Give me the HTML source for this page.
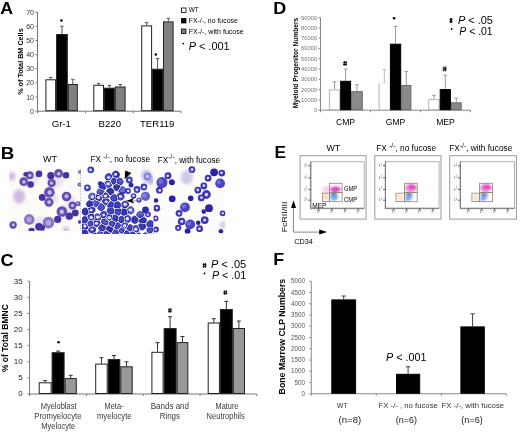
<!DOCTYPE html>
<html><head><meta charset="utf-8"><style>
html,body{margin:0;padding:0;background:#fff;width:520px;height:433px;overflow:hidden}
svg{display:block;will-change:transform;filter:blur(0.25px);font-family:"Liberation Sans", sans-serif}
</style></head><body>
<svg width="520" height="433" viewBox="0 0 520 433">
<text x="0.2" y="13.5" font-size="16.6" text-anchor="start" font-weight="bold" font-style="normal" fill="#000" textLength="12.8" lengthAdjust="spacingAndGlyphs">A</text>
<line x1="37.5" y1="12" x2="37.5" y2="111.2" stroke="#777" stroke-width="1"/>
<line x1="35.5" y1="111.2" x2="37.5" y2="111.2" stroke="#777" stroke-width="1"/>
<text x="34" y="113.7" font-size="7" text-anchor="end" font-weight="normal" font-style="normal" fill="#333">0</text>
<line x1="35.5" y1="97.06" x2="37.5" y2="97.06" stroke="#777" stroke-width="1"/>
<text x="34" y="99.56" font-size="7" text-anchor="end" font-weight="normal" font-style="normal" fill="#333">10</text>
<line x1="35.5" y1="82.92" x2="37.5" y2="82.92" stroke="#777" stroke-width="1"/>
<text x="34" y="85.42" font-size="7" text-anchor="end" font-weight="normal" font-style="normal" fill="#333">20</text>
<line x1="35.5" y1="68.78" x2="37.5" y2="68.78" stroke="#777" stroke-width="1"/>
<text x="34" y="71.28" font-size="7" text-anchor="end" font-weight="normal" font-style="normal" fill="#333">30</text>
<line x1="35.5" y1="54.64000000000001" x2="37.5" y2="54.64000000000001" stroke="#777" stroke-width="1"/>
<text x="34" y="57.14000000000001" font-size="7" text-anchor="end" font-weight="normal" font-style="normal" fill="#333">40</text>
<line x1="35.5" y1="40.5" x2="37.5" y2="40.5" stroke="#777" stroke-width="1"/>
<text x="34" y="43.0" font-size="7" text-anchor="end" font-weight="normal" font-style="normal" fill="#333">50</text>
<line x1="35.5" y1="26.360000000000014" x2="37.5" y2="26.360000000000014" stroke="#777" stroke-width="1"/>
<text x="34" y="28.860000000000014" font-size="7" text-anchor="end" font-weight="normal" font-style="normal" fill="#333">60</text>
<line x1="35.5" y1="12.220000000000013" x2="37.5" y2="12.220000000000013" stroke="#777" stroke-width="1"/>
<text x="34" y="14.720000000000013" font-size="7" text-anchor="end" font-weight="normal" font-style="normal" fill="#333">70</text>
<text x="22.8" y="61.6" font-size="7.6" text-anchor="middle" font-weight="bold" font-style="normal" fill="#000" transform="rotate(-90 22.8 61.6)" textLength="66.5" lengthAdjust="spacingAndGlyphs">% of Total BM Cells</text>
<line x1="37.5" y1="111.2" x2="181" y2="111.2" stroke="#777" stroke-width="1"/>
<line x1="37.5" y1="111.2" x2="37.5" y2="113.2" stroke="#777" stroke-width="1"/>
<line x1="85.5" y1="111.2" x2="85.5" y2="113.2" stroke="#777" stroke-width="1"/>
<line x1="133.2" y1="111.2" x2="133.2" y2="113.2" stroke="#777" stroke-width="1"/>
<line x1="181" y1="111.2" x2="181" y2="113.2" stroke="#777" stroke-width="1"/>
<line x1="50.75" y1="79.3" x2="50.75" y2="77.5" stroke="#555" stroke-width="1"/>
<line x1="49.05" y1="77.5" x2="52.45" y2="77.5" stroke="#555" stroke-width="1"/>
<rect x="45.9" y="79.8" width="9.700000000000003" height="30.900000000000006" fill="#fff" stroke="#222" stroke-width="1"/>
<line x1="61.95" y1="34" x2="61.95" y2="26.2" stroke="#555" stroke-width="1"/>
<line x1="60.25" y1="26.2" x2="63.650000000000006" y2="26.2" stroke="#555" stroke-width="1"/>
<rect x="56.6" y="34.5" width="10.699999999999996" height="76.2" fill="#000" stroke="#222" stroke-width="1"/>
<line x1="72.8" y1="84" x2="72.8" y2="79.3" stroke="#555" stroke-width="1"/>
<line x1="71.1" y1="79.3" x2="74.5" y2="79.3" stroke="#555" stroke-width="1"/>
<rect x="68.3" y="84.5" width="9.0" height="26.200000000000003" fill="#808080" stroke="#222" stroke-width="1"/>
<line x1="98.65" y1="84.8" x2="98.65" y2="83.5" stroke="#555" stroke-width="1"/>
<line x1="96.95" y1="83.5" x2="100.35000000000001" y2="83.5" stroke="#555" stroke-width="1"/>
<rect x="93.8" y="85.3" width="9.700000000000003" height="25.400000000000006" fill="#fff" stroke="#222" stroke-width="1"/>
<line x1="109.4" y1="87.7" x2="109.4" y2="85.5" stroke="#555" stroke-width="1"/>
<line x1="107.7" y1="85.5" x2="111.10000000000001" y2="85.5" stroke="#555" stroke-width="1"/>
<rect x="104.5" y="88.2" width="9.799999999999997" height="22.5" fill="#000" stroke="#222" stroke-width="1"/>
<line x1="120.19999999999999" y1="86.5" x2="120.19999999999999" y2="84.5" stroke="#555" stroke-width="1"/>
<line x1="118.49999999999999" y1="84.5" x2="121.89999999999999" y2="84.5" stroke="#555" stroke-width="1"/>
<rect x="115.3" y="87.0" width="9.799999999999997" height="23.700000000000003" fill="#808080" stroke="#222" stroke-width="1"/>
<line x1="146.64999999999998" y1="25.4" x2="146.64999999999998" y2="22.6" stroke="#555" stroke-width="1"/>
<line x1="144.95" y1="22.6" x2="148.34999999999997" y2="22.6" stroke="#555" stroke-width="1"/>
<rect x="141.7" y="25.9" width="9.900000000000006" height="84.80000000000001" fill="#fff" stroke="#222" stroke-width="1"/>
<line x1="157.55" y1="68.7" x2="157.55" y2="58.5" stroke="#555" stroke-width="1"/>
<line x1="155.85000000000002" y1="58.5" x2="159.25" y2="58.5" stroke="#555" stroke-width="1"/>
<rect x="152.6" y="69.2" width="9.900000000000006" height="41.5" fill="#000" stroke="#222" stroke-width="1"/>
<line x1="168.3" y1="21.4" x2="168.3" y2="18.3" stroke="#555" stroke-width="1"/>
<line x1="166.60000000000002" y1="18.3" x2="170.0" y2="18.3" stroke="#555" stroke-width="1"/>
<rect x="163.5" y="21.9" width="9.599999999999994" height="88.80000000000001" fill="#808080" stroke="#222" stroke-width="1"/>
<circle cx="61.4" cy="20.5" r="1.25" fill="#000"/>
<circle cx="155.8" cy="54.5" r="1.25" fill="#000"/>
<text x="61.3" y="126.6" font-size="9.6" text-anchor="middle" font-weight="normal" font-style="normal" fill="#000">Gr-1</text>
<text x="109.8" y="126.6" font-size="9.6" text-anchor="middle" font-weight="normal" font-style="normal" fill="#000">B220</text>
<text x="157.2" y="126.6" font-size="9.6" text-anchor="middle" font-weight="normal" font-style="normal" fill="#000">TER119</text>
<rect x="181.5" y="8" width="4.5" height="4.5" fill="#fff" stroke="#000" stroke-width="0.8"/>
<rect x="181.5" y="18.5" width="4.5" height="4.5" fill="#000" stroke="#000" stroke-width="0.8"/>
<rect x="181.5" y="29" width="4.5" height="4.5" fill="#808080" stroke="#000" stroke-width="0.8"/>
<text x="188.7" y="12.3" font-size="7.3" text-anchor="start" font-weight="normal" font-style="normal" fill="#000" textLength="10.1" lengthAdjust="spacingAndGlyphs">WT</text>
<text x="188.7" y="22.9" font-size="7.3" text-anchor="start" font-weight="normal" font-style="normal" fill="#000" textLength="49.1" lengthAdjust="spacingAndGlyphs">FX-/-, no fucose</text>
<text x="188.7" y="33.9" font-size="7.3" text-anchor="start" font-weight="normal" font-style="normal" fill="#000" textLength="55.1" lengthAdjust="spacingAndGlyphs">FX-/-, with fucose</text>
<circle cx="183.2" cy="43.6" r="0.9" fill="#000"/>
<text x="188.7" y="50.1" font-size="10.8" text-anchor="start" font-weight="normal" font-style="normal" fill="#000" textLength="40.9" lengthAdjust="spacingAndGlyphs"><tspan font-style="italic">P</tspan> &lt; .001</text>
<text x="273.3" y="13.7" font-size="16.4" text-anchor="start" font-weight="bold" font-style="normal" fill="#000" textLength="13.0" lengthAdjust="spacingAndGlyphs">D</text>
<line x1="320.5" y1="17.5" x2="320.5" y2="110.2" stroke="#888" stroke-width="1"/>
<line x1="318.5" y1="110.2" x2="320.5" y2="110.2" stroke="#888" stroke-width="1"/>
<text x="317.2" y="112.2" font-size="5.8" text-anchor="end" font-weight="normal" font-style="normal" fill="#777">0</text>
<line x1="318.5" y1="99.9" x2="320.5" y2="99.9" stroke="#888" stroke-width="1"/>
<text x="317.2" y="101.9" font-size="5.8" text-anchor="end" font-weight="normal" font-style="normal" fill="#777">10000</text>
<line x1="318.5" y1="89.6" x2="320.5" y2="89.6" stroke="#888" stroke-width="1"/>
<text x="317.2" y="91.6" font-size="5.8" text-anchor="end" font-weight="normal" font-style="normal" fill="#777">20000</text>
<line x1="318.5" y1="79.3" x2="320.5" y2="79.3" stroke="#888" stroke-width="1"/>
<text x="317.2" y="81.3" font-size="5.8" text-anchor="end" font-weight="normal" font-style="normal" fill="#777">30000</text>
<line x1="318.5" y1="69.0" x2="320.5" y2="69.0" stroke="#888" stroke-width="1"/>
<text x="317.2" y="71.0" font-size="5.8" text-anchor="end" font-weight="normal" font-style="normal" fill="#777">40000</text>
<line x1="318.5" y1="58.699999999999996" x2="320.5" y2="58.699999999999996" stroke="#888" stroke-width="1"/>
<text x="317.2" y="60.699999999999996" font-size="5.8" text-anchor="end" font-weight="normal" font-style="normal" fill="#777">50000</text>
<line x1="318.5" y1="48.4" x2="320.5" y2="48.4" stroke="#888" stroke-width="1"/>
<text x="317.2" y="50.4" font-size="5.8" text-anchor="end" font-weight="normal" font-style="normal" fill="#777">60000</text>
<line x1="318.5" y1="38.099999999999994" x2="320.5" y2="38.099999999999994" stroke="#888" stroke-width="1"/>
<text x="317.2" y="40.099999999999994" font-size="5.8" text-anchor="end" font-weight="normal" font-style="normal" fill="#777">70000</text>
<line x1="318.5" y1="27.799999999999997" x2="320.5" y2="27.799999999999997" stroke="#888" stroke-width="1"/>
<text x="317.2" y="29.799999999999997" font-size="5.8" text-anchor="end" font-weight="normal" font-style="normal" fill="#777">80000</text>
<line x1="318.5" y1="17.5" x2="320.5" y2="17.5" stroke="#888" stroke-width="1"/>
<text x="317.2" y="19.5" font-size="5.8" text-anchor="end" font-weight="normal" font-style="normal" fill="#777">90000</text>
<text x="297.6" y="63.05" font-size="7.0" text-anchor="middle" font-weight="bold" font-style="normal" fill="#000" transform="rotate(-90 297.6 63.05)" textLength="90.5" lengthAdjust="spacingAndGlyphs">Myeloid Progenitor Numbers</text>
<line x1="320.5" y1="110.2" x2="470.5" y2="110.2" stroke="#888" stroke-width="1"/>
<line x1="320.5" y1="110.2" x2="320.5" y2="112.2" stroke="#888" stroke-width="1"/>
<line x1="370.5" y1="110.2" x2="370.5" y2="112.2" stroke="#888" stroke-width="1"/>
<line x1="420.5" y1="110.2" x2="420.5" y2="112.2" stroke="#888" stroke-width="1"/>
<line x1="470.5" y1="110.2" x2="470.5" y2="112.2" stroke="#888" stroke-width="1"/>
<line x1="334.54999999999995" y1="89.4" x2="334.54999999999995" y2="81.8" stroke="#999" stroke-width="1"/>
<line x1="332.74999999999994" y1="81.8" x2="336.34999999999997" y2="81.8" stroke="#999" stroke-width="1"/>
<rect x="329.4" y="89.9" width="10.300000000000011" height="19.799999999999997" fill="#fff" stroke="#b4b4b4" stroke-width="1"/>
<line x1="345.65" y1="80.8" x2="345.65" y2="69" stroke="#999" stroke-width="1"/>
<line x1="343.84999999999997" y1="69" x2="347.45" y2="69" stroke="#999" stroke-width="1"/>
<rect x="340.7" y="81.3" width="9.900000000000034" height="28.400000000000006" fill="#000" stroke="#000" stroke-width="1"/>
<line x1="356.95000000000005" y1="91.2" x2="356.95000000000005" y2="84.7" stroke="#999" stroke-width="1"/>
<line x1="355.15000000000003" y1="84.7" x2="358.75000000000006" y2="84.7" stroke="#999" stroke-width="1"/>
<rect x="351.6" y="91.7" width="10.699999999999989" height="18.0" fill="#8a8a8a" stroke="#6a6a6a" stroke-width="1"/>
<line x1="379.1" y1="83.3" x2="379.1" y2="110.2" stroke="#b0b0b0" stroke-width="1"/>
<line x1="379.1" y1="83.3" x2="389.9" y2="83.3" stroke="#eee" stroke-width="1"/>
<line x1="384.3" y1="83.3" x2="384.3" y2="69.4" stroke="#bbb" stroke-width="1"/>
<line x1="382.8" y1="69.4" x2="385.8" y2="69.4" stroke="#bbb" stroke-width="1"/>
<line x1="395.54999999999995" y1="43.7" x2="395.54999999999995" y2="26.4" stroke="#999" stroke-width="1"/>
<line x1="393.74999999999994" y1="26.4" x2="397.34999999999997" y2="26.4" stroke="#999" stroke-width="1"/>
<rect x="390.4" y="44.2" width="10.300000000000011" height="65.5" fill="#000" stroke="#000" stroke-width="1"/>
<line x1="406.29999999999995" y1="85" x2="406.29999999999995" y2="71.4" stroke="#999" stroke-width="1"/>
<line x1="404.49999999999994" y1="71.4" x2="408.09999999999997" y2="71.4" stroke="#999" stroke-width="1"/>
<rect x="401.7" y="85.5" width="9.199999999999989" height="24.200000000000003" fill="#8a8a8a" stroke="#6a6a6a" stroke-width="1"/>
<line x1="433.95" y1="99.2" x2="433.95" y2="95.3" stroke="#999" stroke-width="1"/>
<line x1="432.15" y1="95.3" x2="435.75" y2="95.3" stroke="#999" stroke-width="1"/>
<rect x="428.7" y="99.7" width="10.5" height="10.0" fill="#fff" stroke="#b4b4b4" stroke-width="1"/>
<line x1="445.29999999999995" y1="89.1" x2="445.29999999999995" y2="75.2" stroke="#999" stroke-width="1"/>
<line x1="443.49999999999994" y1="75.2" x2="447.09999999999997" y2="75.2" stroke="#999" stroke-width="1"/>
<rect x="440.2" y="89.6" width="10.199999999999989" height="20.10000000000001" fill="#000" stroke="#000" stroke-width="1"/>
<line x1="456.29999999999995" y1="102.3" x2="456.29999999999995" y2="98.1" stroke="#999" stroke-width="1"/>
<line x1="454.49999999999994" y1="98.1" x2="458.09999999999997" y2="98.1" stroke="#999" stroke-width="1"/>
<rect x="451.4" y="102.8" width="9.800000000000011" height="6.900000000000006" fill="#8a8a8a" stroke="#6a6a6a" stroke-width="1"/>
<path d="M344.47,61 L344.08,65.9 M346.22,61 L345.83,65.9 M343.1,62.62 L347.0,62.62 M343.1,64.43 L347.0,64.43" stroke="#111" stroke-width="1.0" fill="none"/>
<circle cx="394.1" cy="18.2" r="1.3" fill="#000"/>
<path d="M444.06,66.5 L443.68,71.4 M445.82,66.5 L445.43,71.4 M442.7,68.12 L446.59999999999997,68.12 M442.7,69.93 L446.59999999999997,69.93" stroke="#111" stroke-width="1.0" fill="none"/>
<text x="345.5" y="124.6" font-size="8.6" text-anchor="middle" font-weight="normal" font-style="normal" fill="#000">CMP</text>
<text x="395.5" y="124.6" font-size="8.6" text-anchor="middle" font-weight="normal" font-style="normal" fill="#000">GMP</text>
<text x="445.5" y="124.6" font-size="8.6" text-anchor="middle" font-weight="normal" font-style="normal" fill="#000">MEP</text>
<path d="M450.58,17.9 L450.30,23.099999999999998 M451.84,17.9 L451.56,23.099999999999998 M449.6,19.62 L452.40000000000003,19.62 M449.6,21.54 L452.40000000000003,21.54" stroke="#111" stroke-width="1.0" fill="none"/>
<text x="457.9" y="24.3" font-size="10.5" text-anchor="start" font-weight="normal" font-style="normal" fill="#000" textLength="35" lengthAdjust="spacingAndGlyphs"><tspan font-style="italic">P</tspan> &lt; .05</text>
<circle cx="451.6" cy="29" r="0.9" fill="#000"/>
<text x="459.3" y="35.2" font-size="10.5" text-anchor="start" font-weight="normal" font-style="normal" fill="#000" textLength="33.4" lengthAdjust="spacingAndGlyphs"><tspan font-style="italic">P</tspan> &lt; .01</text>
<text x="0.8" y="158.6" font-size="17" text-anchor="start" font-weight="bold" font-style="normal" fill="#000" textLength="13.6" lengthAdjust="spacingAndGlyphs">B</text>
<text x="50.1" y="162.2" font-size="9" text-anchor="middle" font-weight="normal" font-style="normal" fill="#000">WT</text>
<text x="90.5" y="162.3" font-size="8.5" text-anchor="start" font-weight="normal" font-style="normal" fill="#000" textLength="59.5" lengthAdjust="spacingAndGlyphs">FX <tspan font-size="7" dy="-3.3">-/-</tspan><tspan dy="3.3">, no fucose</tspan></text>
<text x="157.8" y="162.5" font-size="8.5" text-anchor="start" font-weight="normal" font-style="normal" fill="#000" textLength="62.3" lengthAdjust="spacingAndGlyphs">FX<tspan font-size="7" dy="-3.3">-/-</tspan><tspan dy="3.3">, with fucose</tspan></text>
<defs><filter id="bl" x="-5%" y="-5%" width="110%" height="110%"><feGaussianBlur stdDeviation="0.55"/></filter><filter id="bl4" x="-50%" y="-50%" width="200%" height="200%"><feGaussianBlur stdDeviation="1.8"/></filter><clipPath id="c1"><rect x="9" y="169" width="72" height="62"/></clipPath><clipPath id="c2"><rect x="82" y="166" width="71.5" height="68"/></clipPath><clipPath id="c3"><rect x="153.5" y="165.5" width="72" height="68"/></clipPath></defs>
<g clip-path="url(#c1)" filter="url(#bl)">
<rect x="9" y="169" width="72" height="62" fill="#fdfbf8"/>
<ellipse cx="30" cy="179" rx="9" ry="7.6" fill="#e6dcf0" opacity="0.8" filter="url(#bl4)"/>
<ellipse cx="55" cy="180" rx="9" ry="7.6" fill="#e6dcf0" opacity="0.8" filter="url(#bl4)"/>
<ellipse cx="50" cy="198" rx="8" ry="6.8" fill="#e6dcf0" opacity="0.8" filter="url(#bl4)"/>
<ellipse cx="66" cy="212" rx="9" ry="7.6" fill="#e6dcf0" opacity="0.8" filter="url(#bl4)"/>
<ellipse cx="42" cy="224" rx="9" ry="7.6" fill="#e6dcf0" opacity="0.8" filter="url(#bl4)"/>
<ellipse cx="70" cy="200" rx="6" ry="5.1" fill="#e6dcf0" opacity="0.8" filter="url(#bl4)"/>
<circle cx="29.7" cy="175.2" r="3.9" fill="#6650b0"/>
<circle cx="29.8" cy="175.3" r="1.6" fill="#cabce6"/>
<circle cx="25.6" cy="174.3" r="2.3" fill="#4630a2"/>
<circle cx="23.7" cy="181.7" r="4.4" fill="#6650b0"/>
<circle cx="23.9" cy="182.0" r="1.8" fill="#cabce6"/>
<circle cx="30.6" cy="184.5" r="3.3" fill="#4630a2"/>
<circle cx="39.0" cy="173.9" r="3.3" fill="#4630a2"/>
<circle cx="42.2" cy="197.4" r="3.4" fill="#4630a2"/>
<circle cx="50.8" cy="175.7" r="3.6" fill="#4630a2"/>
<circle cx="58.6" cy="173.4" r="4.4" fill="#6650b0"/>
<circle cx="58.7" cy="173.7" r="1.8" fill="#cabce6"/>
<circle cx="66.0" cy="175.2" r="3.3" fill="#4630a2"/>
<circle cx="51.7" cy="183.1" r="4.1" fill="#6650b0"/>
<circle cx="51.4" cy="183.1" r="1.7" fill="#cabce6"/>
<circle cx="49.4" cy="192.3" r="5.3" fill="#6650b0"/>
<circle cx="49.7" cy="192.4" r="2.2" fill="#cabce6"/>
<circle cx="48.9" cy="202.3" r="4.5" fill="#6650b0"/>
<circle cx="49.1" cy="202.1" r="1.9" fill="#cabce6"/>
<circle cx="66.5" cy="196.5" r="4.8" fill="#6650b0"/>
<circle cx="66.5" cy="196.3" r="2.0" fill="#cabce6"/>
<circle cx="72.5" cy="205.5" r="3.9" fill="#6650b0"/>
<circle cx="72.5" cy="205.5" r="1.6" fill="#cabce6"/>
<circle cx="78.0" cy="203.7" r="2.5" fill="#6650b0"/>
<circle cx="77.7" cy="203.5" r="1.1" fill="#cabce6"/>
<circle cx="61.9" cy="211.5" r="5.3" fill="#6650b0"/>
<circle cx="61.8" cy="211.7" r="2.2" fill="#cabce6"/>
<circle cx="57.7" cy="219.4" r="3.6" fill="#4630a2"/>
<circle cx="69.3" cy="216.2" r="3.6" fill="#4630a2"/>
<circle cx="75.3" cy="212.9" r="3.4" fill="#4630a2"/>
<circle cx="48.5" cy="222.6" r="5.8" fill="#8a74c2"/>
<circle cx="48.5" cy="222.6" r="2.9" fill="#b4a4da"/>
<circle cx="42.0" cy="227.7" r="3.0" fill="#4630a2"/>
<circle cx="29.2" cy="219.4" r="5.3" fill="#8a74c2"/>
<circle cx="29.2" cy="219.4" r="2.6" fill="#b4a4da"/>
<circle cx="39.0" cy="226.8" r="3.8" fill="#4630a2"/>
<circle cx="31.6" cy="231.0" r="3.2" fill="#4630a2"/>
<circle cx="13.1" cy="225.0" r="3.7" fill="#6650b0"/>
<circle cx="13.3" cy="224.8" r="1.5" fill="#cabce6"/>
<ellipse cx="19.1" cy="196.5" rx="6.0" ry="7.2" fill="#b890d0" opacity="0.6" filter="url(#bl4)"/>
<ellipse cx="11.7" cy="176.2" rx="3.5" ry="4.2" fill="#b890d0" opacity="0.6" filter="url(#bl4)"/>
<ellipse cx="66.0" cy="230.0" rx="3.0" ry="3.6" fill="#b890d0" opacity="0.6" filter="url(#bl4)"/>
<circle cx="79.6" cy="184.5" r="2.1" fill="#6650b0"/>
<circle cx="79.8" cy="184.3" r="0.9" fill="#cabce6"/>
<circle cx="79.6" cy="172.0" r="1.7" fill="#6650b0"/>
<circle cx="79.7" cy="171.8" r="0.7" fill="#cabce6"/>
<circle cx="79.6" cy="222.0" r="1.7" fill="#4630a2"/>
</g>
<line x1="80.4" y1="169" x2="80.4" y2="231" stroke="#8080b8" stroke-width="0.7" stroke-dasharray="1.2,1.6"/>
<g clip-path="url(#c2)" filter="url(#bl)">
<rect x="82" y="166" width="71.5" height="68" fill="#fcfbfa"/>
<circle cx="90.8" cy="169.8" r="3.4" fill="#3c3cc0"/>
<circle cx="90.5" cy="170.0" r="1.4" fill="#e4e4f8"/>
<circle cx="87.4" cy="187.8" r="3.4" fill="#3c3cc0"/>
<circle cx="87.2" cy="187.6" r="1.4" fill="#e4e4f8"/>
<circle cx="100.2" cy="183.5" r="2.3" fill="#2a2aa8"/>
<ellipse cx="146.4" cy="175.8" rx="5.0" ry="6.0" fill="#9090d8" opacity="0.6" filter="url(#bl4)"/>
<circle cx="147.5" cy="176.5" r="3.7" fill="#8080d8"/>
<circle cx="147.5" cy="176.5" r="1.8" fill="#d0d0f0"/>
<circle cx="143.8" cy="187.0" r="3.4" fill="#3c3cc0"/>
<circle cx="144.1" cy="187.2" r="1.4" fill="#e4e4f8"/>
<circle cx="137.0" cy="189.5" r="3.4" fill="#3c3cc0"/>
<circle cx="136.9" cy="189.8" r="1.4" fill="#e4e4f8"/>
<circle cx="129.3" cy="180.0" r="3.4" fill="#3c3cc0"/>
<circle cx="129.3" cy="180.1" r="1.4" fill="#e4e4f8"/>
<circle cx="145.5" cy="196.3" r="4.6" fill="#6060d0"/>
<circle cx="144.3" cy="195.4" r="2.1" fill="#a0a0e8" opacity="0.6"/>
<circle cx="145.5" cy="210.0" r="3.4" fill="#2a2aa8"/>
<circle cx="148.0" cy="214.3" r="2.9" fill="#3c3cc0"/>
<circle cx="147.8" cy="214.6" r="1.2" fill="#e4e4f8"/>
<ellipse cx="150.8" cy="180.0" rx="4.0" ry="4.8" fill="#9090d8" opacity="0.6" filter="url(#bl4)"/>
<circle cx="131.0" cy="185.0" r="2.5" fill="#2a2aa8"/>
<circle cx="122.5" cy="191.5" r="3.0" fill="#3c3cc0"/>
<circle cx="122.6" cy="191.8" r="1.3" fill="#e4e4f8"/>
<circle cx="128.0" cy="191.0" r="2.9" fill="#3c3cc0"/>
<circle cx="128.2" cy="190.9" r="1.2" fill="#e4e4f8"/>
<circle cx="133.5" cy="196.0" r="2.8" fill="#3c3cc0"/>
<circle cx="133.4" cy="195.8" r="1.2" fill="#e4e4f8"/>
<circle cx="139.0" cy="200.0" r="2.6" fill="#3c3cc0"/>
<circle cx="138.8" cy="199.7" r="1.1" fill="#e4e4f8"/>
<path d="M97.7,207.9 L97.9,208.3 L98.2,208.9 L98.6,209.4 L99.2,209.9 L99.8,210.2 L100.4,210.4 L101.1,210.5 L103.2,209.8 L103.6,209.4 L104.1,208.9 L104.4,208.3 L104.6,207.6 L104.7,206.9 L104.6,206.4 L101.3,203.4 L101.1,203.4 L100.9,203.4 L97.7,207.9Z" fill="#5050c8" stroke="#22229c" stroke-width="1.0"/>
<path d="M113.6,209.1 L113.4,208.8 L107.8,208.7 L107.7,208.9 L107.4,209.5 L107.2,210.2 L107.1,210.9 L107.1,211.1 L108.2,212.9 L112.5,213.9 L112.6,213.8 L113.1,213.4 L113.3,213.2 L113.6,209.1Z" fill="#4a4ac8" stroke="#22229c" stroke-width="1.0"/>
<ellipse cx="111.1" cy="210.0" rx="1.8" ry="1.4" fill="#3a3ab4" opacity="0.7"/>
<path d="M82.4,228.7 L87.0,229.1 L87.8,227.4 L86.3,224.1 L82.2,224.1 L82.0,224.3 L81.7,224.9 L81.5,225.6 L81.4,226.3 L81.5,227.0 L81.7,227.6 L82.0,228.2 L82.4,228.7Z" fill="#3838b8" stroke="#22229c" stroke-width="1.0"/>
<ellipse cx="84.9" cy="226.0" rx="1.6" ry="1.7" fill="#e8e8fa"/>
<path d="M99.3,187.5 L104.5,189.5 L104.6,189.4 L105.2,189.0 L105.6,188.4 L105.8,188.0 L103.7,183.1 L103.4,183.0 L102.7,182.9 L102.0,183.0 L101.3,183.2 L100.7,183.5 L100.2,184.0 L99.7,184.5 L99.4,185.1 L99.2,185.8 L99.1,186.5 L99.2,187.2 L99.3,187.5Z" fill="#3838b8" stroke="#22229c" stroke-width="1.0"/>
<path d="M129.2,224.8 L127.0,229.2 L130.2,231.0 L131.7,230.3 L132.2,225.8 L131.7,225.3 L131.1,225.0 L130.4,224.8 L129.7,224.7 L129.2,224.8Z" fill="#4a4ac8" stroke="#22229c" stroke-width="1.0"/>
<ellipse cx="129.5" cy="228.0" rx="2.3" ry="1.6" fill="#3a3ab4" opacity="0.7"/>
<path d="M118.8,221.4 L121.1,222.9 L124.0,221.4 L123.2,216.9 L121.6,216.4 L121.0,216.4 L120.3,216.6 L119.7,217.0 L119.7,217.0 L118.8,221.4Z" fill="#4040c0" stroke="#22229c" stroke-width="1.0"/>
<path d="M133.9,226.0 L133.4,230.4 L136.4,232.0 L138.4,231.4 L138.7,231.0 L139.0,230.4 L139.1,230.2 L137.2,225.8 L137.1,225.7 L136.4,225.5 L135.8,225.5 L135.1,225.5 L134.4,225.7 L133.9,226.0Z" fill="#6262d2" stroke="#22229c" stroke-width="1.0"/>
<ellipse cx="135.6" cy="229.3" rx="1.7" ry="1.4" fill="#e8e8fa"/>
<path d="M109.2,224.6 L113.4,226.7 L115.1,222.8 L111.7,221.1 L109.9,222.0 L109.2,224.6Z" fill="#5050c8" stroke="#22229c" stroke-width="1.0"/>
<path d="M112.5,233.3 L112.5,233.4 L112.7,234.1 L113.1,234.7 L113.5,235.3 L114.0,235.7 L114.7,236.0 L115.3,236.2 L115.7,236.3 L118.5,233.2 L117.5,230.4 L114.6,229.7 L112.5,233.3Z" fill="#5656cc" stroke="#22229c" stroke-width="1.0"/>
<ellipse cx="116.6" cy="232.5" rx="1.8" ry="1.5" fill="#3a3ab4" opacity="0.7"/>
<path d="M118.5,193.6 L118.0,194.0 L117.6,194.5 L117.6,194.5 L118.8,199.6 L119.2,199.7 L119.8,199.9 L120.5,200.0 L121.2,199.9 L121.9,199.7 L122.5,199.4 L123.0,199.0 L123.5,198.4 L123.8,197.8 L124.0,197.2 L124.1,196.5 L124.0,195.8 L123.8,195.1 L123.7,194.9 L118.5,193.6Z" fill="#5656cc" stroke="#22229c" stroke-width="1.0"/>
<ellipse cx="120.5" cy="196.4" rx="1.5" ry="1.3" fill="#e8e8fa"/>
<path d="M142.8,238.5 L143.2,238.9 L143.7,239.4 L144.3,239.7 L145.0,239.9 L145.7,240.0 L146.4,239.9 L147.0,239.7 L147.6,239.4 L147.9,234.3 L146.2,232.9 L145.7,232.9 L145.0,232.9 L144.3,233.1 L143.7,233.5 L143.2,233.9 L142.8,234.3 L142.8,238.5Z" fill="#5656cc" stroke="#22229c" stroke-width="1.0"/>
<ellipse cx="145.5" cy="236.1" rx="1.4" ry="1.2" fill="#e8e8fa"/>
<path d="M92.3,221.7 L89.2,221.3 L87.8,223.3 L89.2,226.4 L92.7,225.4 L92.3,221.7Z" fill="#5050c8" stroke="#22229c" stroke-width="1.0"/>
<path d="M113.1,184.4 L115.4,183.1 L116.0,179.2 L113.0,178.1 L111.0,180.7 L113.1,184.4Z" fill="#4040c0" stroke="#22229c" stroke-width="1.0"/>
<path d="M101.8,223.0 L106.2,225.1 L106.5,225.0 L106.7,224.9 L107.3,224.5 L107.4,224.4 L108.2,221.7 L105.3,219.0 L102.3,219.6 L102.2,219.8 L101.9,220.4 L101.7,221.0 L101.6,221.7 L101.7,222.4 L101.8,223.0Z" fill="#5656cc" stroke="#22229c" stroke-width="1.0"/>
<path d="M122.5,234.9 L119.8,234.4 L116.9,237.4 L116.9,237.6 L117.1,238.3 L117.4,238.9 L117.9,239.4 L118.4,239.8 L119.0,240.2 L119.7,240.4 L120.4,240.4 L121.1,240.4 L121.7,240.2 L122.4,239.8 L122.9,239.4 L123.3,238.9 L123.7,238.3 L123.9,237.6 L123.9,237.5 L122.5,234.9Z" fill="#6e6ed8" stroke="#22229c" stroke-width="1.0"/>
<ellipse cx="120.6" cy="236.8" rx="1.6" ry="1.5" fill="#e8e8fa"/>
<path d="M95.7,199.2 L100.2,200.9 L100.2,200.9 L100.7,200.4 L101.0,200.1 L101.6,198.9 L100.9,196.6 L96.6,194.8 L95.7,199.2Z" fill="#4040c0" stroke="#22229c" stroke-width="1.0"/>
<ellipse cx="98.5" cy="197.5" rx="1.7" ry="1.6" fill="#e8e8fa"/>
<path d="M104.7,237.2 L105.2,237.5 L105.9,237.7 L106.6,237.8 L107.3,237.7 L108.0,237.5 L108.6,237.2 L109.1,236.8 L109.5,236.2 L109.9,235.6 L110.1,235.0 L110.1,234.3 L110.1,233.9 L105.7,231.2 L104.2,232.2 L104.7,237.2Z" fill="#4040c0" stroke="#22229c" stroke-width="1.0"/>
<path d="M114.9,202.9 L114.7,207.7 L114.8,207.9 L120.1,207.2 L120.4,206.7 L120.2,203.5 L120.1,203.4 L119.7,202.8 L119.1,202.4 L118.5,202.0 L117.8,201.8 L117.6,201.8 L114.9,202.9Z" fill="#4040c0" stroke="#22229c" stroke-width="1.0"/>
<path d="M127.6,208.8 L128.8,213.5 L129.0,213.6 L129.7,213.8 L130.4,213.9 L131.1,213.8 L131.7,213.6 L132.3,213.3 L132.9,212.8 L133.3,212.3 L133.6,211.7 L133.8,211.0 L133.9,210.3 L133.8,209.6 L133.6,209.0 L133.3,208.3 L132.9,207.8 L132.3,207.4 L131.7,207.0 L131.1,206.8 L130.4,206.8 L129.7,206.8 L127.6,208.8Z" fill="#6e6ed8" stroke="#22229c" stroke-width="1.0"/>
<ellipse cx="130.3" cy="210.0" rx="1.9" ry="1.3" fill="#e8e8fa"/>
<path d="M121.8,214.4 L122.2,214.8 L123.9,215.3 L127.2,213.9 L126.0,209.3 L122.4,208.9 L122.3,209.0 L122.1,209.1 L121.8,214.4Z" fill="#3232b2" stroke="#22229c" stroke-width="1.0"/>
<path d="M112.6,219.7 L116.2,221.5 L117.1,221.2 L118.0,216.6 L118.0,216.6 L118.0,216.5 L114.4,215.1 L114.4,215.1 L113.7,215.3 L113.4,215.4 L112.6,219.7Z" fill="#4040c0" stroke="#22229c" stroke-width="1.0"/>
<path d="M86.1,215.1 L86.6,215.0 L88.3,213.3 L86.8,208.4 L86.8,208.4 L86.1,208.2 L85.4,208.1 L84.8,208.2 L84.1,208.4 L83.5,208.7 L82.9,209.1 L82.5,209.7 L82.2,210.3 L82.0,211.0 L81.9,211.6 L82.0,212.3 L82.2,213.0 L82.5,213.6 L82.9,214.1 L83.5,214.6 L84.1,214.9 L84.4,215.0 L86.1,215.1Z" fill="#3232b2" stroke="#22229c" stroke-width="1.0"/>
<path d="M135.4,216.2 L134.9,216.2 L134.2,216.2 L133.5,216.4 L132.9,216.8 L132.4,217.2 L132.1,217.5 L131.8,221.3 L132.0,221.7 L132.4,222.2 L132.9,222.7 L133.5,223.0 L134.2,223.2 L134.9,223.3 L135.6,223.2 L136.3,223.0 L136.9,222.7 L137.4,222.2 L137.8,221.7 L138.0,219.3 L135.4,216.2Z" fill="#3838b8" stroke="#22229c" stroke-width="1.0"/>
<ellipse cx="134.5" cy="219.5" rx="1.6" ry="1.5" fill="#3a3ab4" opacity="0.7"/>
<path d="M130.1,237.0 L130.2,237.1 L130.7,237.5 L131.3,237.9 L132.0,238.1 L132.7,238.1 L133.4,238.1 L133.8,237.9 L135.3,233.4 L132.4,231.8 L130.9,232.5 L130.1,237.0Z" fill="#4040c0" stroke="#22229c" stroke-width="1.0"/>
<path d="M107.8,189.0 L107.7,189.1 L107.3,189.7 L106.9,190.3 L106.7,190.9 L106.7,191.2 L110.3,195.0 L113.4,193.1 L113.5,193.0 L113.7,192.3 L113.8,191.6 L113.7,191.0 L112.3,188.8 L112.2,188.7 L111.6,188.4 L111.2,188.2 L107.8,189.0Z" fill="#3232b2" stroke="#22229c" stroke-width="1.0"/>
<path d="M103.1,198.1 L108.6,197.8 L108.9,197.2 L109.1,196.6 L109.1,196.3 L105.5,192.4 L105.4,192.4 L102.6,196.1 L103.1,198.1Z" fill="#4040c0" stroke="#22229c" stroke-width="1.0"/>
<ellipse cx="105.4" cy="196.1" rx="1.9" ry="1.3" fill="#e8e8fa"/>
<path d="M139.5,223.9 L139.1,224.4 L138.8,225.0 L138.8,225.1 L140.6,229.6 L140.7,229.6 L141.4,229.8 L142.1,229.9 L142.8,229.8 L143.4,229.6 L144.1,229.3 L144.6,228.8 L145.0,228.3 L145.4,227.7 L145.6,227.0 L145.6,226.4 L145.2,224.7 L145.1,224.5 L139.5,223.9Z" fill="#3838b8" stroke="#22229c" stroke-width="1.0"/>
<path d="M111.2,199.9 L114.1,201.4 L117.0,200.2 L117.2,200.0 L117.2,200.0 L115.9,194.9 L115.6,194.8 L114.9,194.6 L114.3,194.5 L111.0,196.6 L110.9,196.7 L110.7,197.3 L110.7,198.0 L110.7,198.7 L110.9,199.4 L111.2,199.9Z" fill="#4a4ac8" stroke="#22229c" stroke-width="1.0"/>
<path d="M82.2,230.4 L81.8,230.7 L81.4,231.3 L81.1,231.9 L80.9,232.6 L80.8,233.3 L80.9,233.9 L81.1,234.6 L81.4,235.2 L81.8,235.8 L82.4,236.2 L83.0,236.5 L83.6,236.7 L84.3,236.8 L85.0,236.7 L85.7,236.5 L86.3,236.2 L86.8,235.8 L87.3,235.2 L87.6,234.6 L87.8,233.9 L87.9,233.3 L87.8,232.6 L87.8,232.5 L87.1,231.1 L86.9,230.8 L82.2,230.4Z" fill="#3838b8" stroke="#22229c" stroke-width="1.0"/>
<ellipse cx="84.7" cy="233.9" rx="1.7" ry="2.0" fill="#3a3ab4" opacity="0.7"/>
<path d="M151.6,232.5 L153.6,228.5 L153.5,228.2 L153.3,228.0 L147.6,228.1 L147.6,228.2 L147.2,228.8 L147.0,229.5 L147.0,230.2 L147.0,230.9 L147.2,231.5 L147.3,231.6 L149.1,233.0 L151.6,232.5Z" fill="#5050c8" stroke="#22229c" stroke-width="1.0"/>
<path d="M84.3,216.7 L83.6,216.9 L83.0,217.2 L82.4,217.7 L82.0,218.2 L81.7,218.8 L81.5,219.5 L81.4,220.2 L81.5,220.9 L81.7,221.5 L82.0,222.2 L82.2,222.4 L86.4,222.4 L87.8,220.3 L86.2,216.9 L86.0,216.8 L84.3,216.7Z" fill="#3838b8" stroke="#22229c" stroke-width="1.0"/>
<path d="M101.2,224.5 L98.6,227.7 L98.6,227.9 L98.7,228.6 L98.9,229.2 L99.2,229.8 L99.4,230.0 L103.1,230.9 L104.9,229.7 L105.4,226.6 L101.2,224.5Z" fill="#4a4ac8" stroke="#22229c" stroke-width="1.0"/>
<ellipse cx="102.7" cy="227.5" rx="1.7" ry="1.4" fill="#3a3ab4" opacity="0.7"/>
<path d="M99.9,223.4 L99.9,223.3 L99.8,222.6 L99.6,221.9 L99.5,221.8 L94.5,220.8 L94.0,221.2 L94.4,225.5 L96.3,226.8 L96.3,226.8 L97.0,226.7 L97.3,226.6 L99.9,223.4Z" fill="#3838b8" stroke="#22229c" stroke-width="1.0"/>
<ellipse cx="96.4" cy="223.4" rx="1.9" ry="1.3" fill="#e8e8fa"/>
<path d="M146.8,224.2 L147.3,225.9 L147.4,226.2 L147.6,226.4 L153.2,226.3 L153.3,226.2 L153.6,225.6 L153.8,224.9 L153.9,224.2 L153.8,223.5 L153.6,222.8 L153.3,222.2 L152.9,221.7 L152.3,221.3 L151.7,220.9 L151.1,220.7 L150.4,220.7 L149.7,220.7 L149.0,220.9 L148.4,221.3 L147.9,221.7 L147.7,221.9 L146.9,223.5 L146.8,224.2Z" fill="#4040c0" stroke="#22229c" stroke-width="1.0"/>
<path d="M89.2,200.8 L88.8,200.9 L88.2,201.2 L87.7,201.6 L87.3,202.2 L86.9,202.8 L86.7,203.4 L86.7,204.1 L86.7,204.8 L86.9,205.5 L87.3,206.1 L87.7,206.6 L87.8,206.7 L92.6,205.7 L92.0,201.5 L89.2,200.8Z" fill="#3232b2" stroke="#22229c" stroke-width="1.0"/>
<path d="M113.7,187.8 L115.1,190.0 L115.2,190.1 L115.8,190.5 L116.5,190.7 L117.2,190.7 L117.3,190.7 L120.2,186.2 L116.3,184.5 L113.9,185.9 L113.7,186.5 L113.6,187.2 L113.7,187.8Z" fill="#3838b8" stroke="#22229c" stroke-width="1.0"/>
<ellipse cx="117.2" cy="186.5" rx="2.3" ry="1.9" fill="#3a3ab4" opacity="0.7"/>
<path d="M88.6,208.3 L89.9,212.7 L93.2,212.8 L93.4,212.7 L93.9,212.3 L94.4,211.8 L94.7,211.1 L94.9,210.5 L95.0,209.8 L94.9,209.1 L94.7,208.4 L94.6,208.2 L93.3,207.3 L88.6,208.3Z" fill="#3232b2" stroke="#22229c" stroke-width="1.0"/>
<ellipse cx="91.1" cy="209.9" rx="1.6" ry="1.5" fill="#e8e8fa"/>
<path d="M125.4,228.5 L127.7,224.0 L127.7,223.9 L124.9,222.8 L121.9,224.4 L122.0,226.5 L125.4,228.5Z" fill="#6e6ed8" stroke="#22229c" stroke-width="1.0"/>
<ellipse cx="124.6" cy="225.9" rx="1.6" ry="1.7" fill="#e8e8fa"/>
<path d="M91.4,234.5 L91.1,235.1 L90.9,235.7 L90.8,236.4 L90.9,237.1 L91.1,237.8 L91.4,238.4 L91.8,238.9 L92.4,239.4 L93.0,239.7 L93.6,239.9 L94.3,240.0 L95.0,239.9 L95.7,239.7 L96.3,239.4 L96.8,238.9 L97.3,238.4 L96.0,233.3 L95.7,233.1 L95.6,233.1 L91.4,234.5Z" fill="#6262d2" stroke="#22229c" stroke-width="1.0"/>
<ellipse cx="94.3" cy="236.5" rx="1.5" ry="1.5" fill="#e8e8fa"/>
<path d="M114.8,228.0 L117.9,228.8 L120.3,226.6 L120.2,224.4 L117.7,222.7 L116.8,223.1 L114.8,227.9 L114.8,228.0Z" fill="#4a4ac8" stroke="#22229c" stroke-width="1.0"/>
<path d="M95.2,214.8 L95.1,219.2 L99.9,220.1 L100.0,220.0 L100.4,219.5 L100.8,218.9 L100.8,218.8 L98.9,214.3 L98.8,214.2 L98.2,214.0 L97.5,214.0 L96.8,214.0 L96.1,214.2 L95.5,214.6 L95.2,214.8Z" fill="#6262d2" stroke="#22229c" stroke-width="1.0"/>
<ellipse cx="97.8" cy="217.2" rx="2.0" ry="1.4" fill="#e8e8fa"/>
<path d="M102.2,217.9 L105.0,217.4 L106.7,213.7 L105.6,211.9 L105.1,211.6 L104.5,211.4 L103.8,211.4 L101.7,212.1 L101.3,212.4 L100.8,212.9 L100.5,213.6 L100.5,213.6 L102.2,217.9Z" fill="#4a4ac8" stroke="#22229c" stroke-width="1.0"/>
<ellipse cx="103.7" cy="215.0" rx="1.4" ry="1.2" fill="#e8e8fa"/>
<path d="M93.5,226.9 L89.3,228.2 L88.6,229.8 L88.6,230.2 L88.7,230.3 L89.3,231.7 L89.6,232.1 L90.1,232.5 L90.7,232.8 L90.9,232.9 L95.1,231.5 L95.4,230.9 L95.6,230.2 L95.6,229.6 L95.6,228.9 L95.4,228.2 L93.5,226.9Z" fill="#3838b8" stroke="#22229c" stroke-width="1.0"/>
<ellipse cx="92.0" cy="229.4" rx="1.6" ry="1.2" fill="#e8e8fa"/>
<path d="M139.5,221.9 L139.7,222.2 L145.3,222.8 L145.4,222.7 L146.2,221.1 L146.3,220.4 L146.2,219.7 L146.0,219.1 L145.7,218.4 L145.2,217.9 L144.7,217.5 L144.4,217.3 L139.7,219.6 L139.5,221.9Z" fill="#3838b8" stroke="#22229c" stroke-width="1.0"/>
<path d="M125.7,221.3 L128.3,222.3 L128.7,222.2 L129.3,221.9 L129.8,221.5 L130.1,221.2 L130.4,217.4 L130.2,217.0 L129.8,216.5 L129.3,216.0 L128.7,215.7 L128.0,215.5 L127.9,215.5 L124.9,216.8 L125.7,221.3Z" fill="#5050c8" stroke="#22229c" stroke-width="1.0"/>
<ellipse cx="127.3" cy="218.8" rx="1.7" ry="1.7" fill="#e8e8fa"/>
<path d="M102.4,202.1 L105.8,205.2 L105.9,205.2 L106.0,205.2 L109.3,200.5 L109.2,200.3 L108.9,199.7 L108.7,199.5 L103.0,199.8 L102.5,200.9 L102.5,201.0 L102.4,201.7 L102.4,202.1Z" fill="#4040c0" stroke="#22229c" stroke-width="1.0"/>
<ellipse cx="106.2" cy="201.8" rx="1.6" ry="1.2" fill="#e8e8fa"/>
<path d="M94.8,200.7 L93.7,201.3 L94.3,205.9 L95.6,206.9 L96.1,206.9 L96.3,206.9 L99.5,202.5 L94.8,200.7Z" fill="#6e6ed8" stroke="#22229c" stroke-width="1.0"/>
<ellipse cx="97.0" cy="204.3" rx="2.0" ry="1.5" fill="#3a3ab4" opacity="0.7"/>
<path d="M106.2,179.6 L109.5,179.8 L111.8,176.9 L110.8,174.3 L110.8,174.2 L110.2,173.9 L109.5,173.7 L108.8,173.6 L108.1,173.7 L107.5,173.9 L106.9,174.2 L106.3,174.7 L105.9,175.2 L105.5,175.8 L105.3,176.5 L105.3,177.2 L105.3,177.9 L105.5,178.5 L105.9,179.2 L106.2,179.6Z" fill="#4a4ac8" stroke="#22229c" stroke-width="1.0"/>
<ellipse cx="108.7" cy="177.5" rx="1.7" ry="1.3" fill="#e8e8fa"/>
<path d="M89.6,199.1 L92.7,199.9 L94.0,199.2 L94.9,194.4 L94.8,194.2 L94.2,193.8 L93.6,193.5 L92.9,193.3 L92.3,193.2 L91.6,193.3 L90.9,193.5 L90.3,193.8 L89.7,194.2 L89.3,194.8 L89.0,195.4 L88.8,196.0 L88.7,196.7 L88.8,197.4 L89.0,198.1 L89.3,198.7 L89.6,199.1Z" fill="#6e6ed8" stroke="#22229c" stroke-width="1.0"/>
<ellipse cx="92.6" cy="196.7" rx="1.7" ry="1.5" fill="#e8e8fa"/>
<path d="M97.6,232.9 L98.9,238.0 L99.2,238.1 L99.9,238.3 L100.6,238.4 L101.2,238.3 L101.9,238.1 L102.5,237.8 L103.0,237.4 L102.5,232.5 L99.0,231.7 L98.6,231.9 L98.0,232.3 L97.6,232.9Z" fill="#6e6ed8" stroke="#22229c" stroke-width="1.0"/>
<path d="M110.6,201.5 L107.4,206.2 L107.5,206.3 L107.8,206.9 L107.8,207.0 L113.0,207.1 L113.2,202.8 L110.6,201.5Z" fill="#4040c0" stroke="#22229c" stroke-width="1.0"/>
<ellipse cx="110.3" cy="205.9" rx="1.9" ry="1.5" fill="#3a3ab4" opacity="0.7"/>
<path d="M149.3,239.5 L149.7,239.7 L150.3,240.1 L150.9,240.3 L151.6,240.3 L152.3,240.3 L153.0,240.1 L153.6,239.7 L154.1,239.3 L154.6,238.8 L154.9,238.2 L155.1,237.5 L155.1,237.4 L151.9,234.2 L149.6,234.6 L149.3,239.5Z" fill="#3838b8" stroke="#22229c" stroke-width="1.0"/>
<path d="M135.4,238.5 L135.7,239.0 L136.3,239.4 L136.9,239.7 L137.6,239.9 L138.3,240.0 L138.9,239.9 L139.6,239.7 L140.2,239.4 L140.8,239.0 L141.1,238.5 L141.1,234.4 L140.8,234.0 L140.2,233.5 L139.6,233.2 L138.9,233.0 L138.9,233.0 L137.0,233.6 L135.4,238.5Z" fill="#5050c8" stroke="#22229c" stroke-width="1.0"/>
<ellipse cx="137.8" cy="236.4" rx="1.6" ry="1.7" fill="#3a3ab4" opacity="0.7"/>
<path d="M113.4,176.4 L116.8,177.7 L118.7,176.7 L118.8,176.7 L119.1,176.1 L119.3,175.4 L119.4,174.7 L119.3,174.0 L119.1,173.3 L118.8,172.7 L118.4,172.2 L117.8,171.7 L117.2,171.4 L116.5,171.2 L115.8,171.1 L115.2,171.2 L114.5,171.4 L113.9,171.7 L113.3,172.2 L112.9,172.7 L112.6,173.3 L112.5,173.7 L113.4,176.4Z" fill="#3232b2" stroke="#22229c" stroke-width="1.0"/>
<ellipse cx="115.5" cy="174.4" rx="1.6" ry="1.4" fill="#e8e8fa"/>
<path d="M121.9,203.3 L122.1,206.5 L122.2,206.7 L122.6,207.2 L126.3,207.7 L128.6,205.6 L128.6,205.4 L128.7,204.7 L128.6,204.0 L128.4,203.4 L128.1,202.7 L127.6,202.2 L127.1,201.8 L126.5,201.4 L125.8,201.2 L125.1,201.2 L124.4,201.2 L123.8,201.4 L123.2,201.8 L122.6,202.2 L122.2,202.7 L121.9,203.3Z" fill="#5050c8" stroke="#22229c" stroke-width="1.0"/>
<ellipse cx="125.1" cy="204.3" rx="1.7" ry="1.6" fill="#e8e8fa"/>
<path d="M93.1,214.5 L89.6,214.4 L87.8,216.2 L87.8,216.2 L89.3,219.6 L92.8,220.0 L93.4,219.5 L93.5,214.8 L93.1,214.5Z" fill="#5050c8" stroke="#22229c" stroke-width="1.0"/>
<ellipse cx="91.2" cy="217.4" rx="1.8" ry="1.5" fill="#e8e8fa"/>
<path d="M105.2,182.4 L107.4,187.3 L107.4,187.4 L110.8,186.6 L110.9,186.5 L111.4,185.9 L111.7,185.3 L109.4,181.5 L106.1,181.3 L105.9,181.5 L105.5,182.0 L105.2,182.4Z" fill="#5656cc" stroke="#22229c" stroke-width="1.0"/>
<ellipse cx="108.1" cy="183.8" rx="1.8" ry="1.5" fill="#e8e8fa"/>
<path d="M126.0,230.6 L124.0,234.2 L125.4,236.7 L125.5,236.8 L126.1,237.0 L126.8,237.0 L127.5,237.0 L128.2,236.8 L128.4,236.7 L129.2,232.4 L126.0,230.6Z" fill="#4a4ac8" stroke="#22229c" stroke-width="1.0"/>
<ellipse cx="126.5" cy="234.0" rx="2.0" ry="1.2" fill="#3a3ab4" opacity="0.7"/>
<path d="M118.6,215.0 L118.7,215.0 L119.3,214.8 L119.9,214.4 L120.1,214.3 L120.5,209.0 L120.4,208.9 L115.3,209.6 L115.0,213.4 L115.0,213.5 L115.0,213.5 L118.6,215.0Z" fill="#5050c8" stroke="#22229c" stroke-width="1.0"/>
<ellipse cx="118.3" cy="210.7" rx="2.1" ry="1.4" fill="#3a3ab4" opacity="0.7"/>
<path d="M118.8,191.6 L118.8,191.7 L118.9,191.9 L124.1,193.2 L124.6,192.8 L125.0,192.3 L125.3,191.7 L125.5,191.0 L125.6,190.3 L125.5,189.6 L125.3,189.0 L125.0,188.4 L124.6,187.8 L124.0,187.4 L123.4,187.0 L122.7,186.8 L122.1,186.8 L121.9,186.8 L118.8,191.6Z" fill="#6e6ed8" stroke="#22229c" stroke-width="1.0"/>
<path d="M136.7,215.1 L139.1,217.9 L143.7,215.8 L143.8,215.1 L143.7,214.4 L143.5,213.8 L143.2,213.2 L142.7,212.6 L142.2,212.2 L141.6,211.9 L140.9,211.7 L140.2,211.6 L139.5,211.7 L138.9,211.9 L138.3,212.2 L137.7,212.6 L137.3,213.2 L137.0,213.8 L136.8,214.4 L136.7,215.1Z" fill="#6e6ed8" stroke="#22229c" stroke-width="1.0"/>
<ellipse cx="140.6" cy="216.0" rx="2.1" ry="1.9" fill="#3a3ab4" opacity="0.7"/>
<path d="M97.2,193.2 L101.4,194.9 L104.0,191.3 L103.9,191.1 L98.7,189.1 L98.6,189.2 L98.1,189.6 L97.6,190.2 L97.3,190.8 L97.1,191.4 L97.0,192.1 L97.1,192.8 L97.2,193.2Z" fill="#6e6ed8" stroke="#22229c" stroke-width="1.0"/>
<ellipse cx="100.9" cy="192.6" rx="2.3" ry="1.6" fill="#3a3ab4" opacity="0.7"/>
<path d="M153.2,233.1 L156.3,236.2 L156.3,236.2 L157.0,236.0 L157.6,235.7 L158.2,235.3 L158.6,234.7 L158.9,234.1 L159.1,233.4 L159.2,232.8 L159.1,232.1 L158.9,231.4 L158.6,230.8 L158.2,230.2 L157.6,229.8 L157.0,229.5 L156.3,229.3 L155.7,229.2 L155.1,229.3 L153.2,233.1Z" fill="#5656cc" stroke="#22229c" stroke-width="1.0"/>
<ellipse cx="155.3" cy="233.0" rx="1.7" ry="1.5" fill="#e8e8fa"/>
<path d="M108.2,226.0 L107.6,226.4 L107.3,226.6 L107.1,226.8 L106.6,229.7 L111.0,232.5 L111.0,232.4 L113.2,228.7 L113.2,228.5 L108.2,226.0Z" fill="#3232b2" stroke="#22229c" stroke-width="1.0"/>
<path d="M110.9,219.6 L111.7,215.4 L108.1,214.6 L106.6,217.9 L109.3,220.4 L110.9,219.6Z" fill="#4040c0" stroke="#22229c" stroke-width="1.0"/>
<ellipse cx="109.3" cy="217.7" rx="2.0" ry="1.4" fill="#e8e8fa"/>
<path d="M122.6,233.2 L124.5,229.9 L121.3,228.0 L119.1,230.0 L120.1,232.7 L122.6,233.2Z" fill="#6e6ed8" stroke="#22229c" stroke-width="1.0"/>
<ellipse cx="122.3" cy="229.7" rx="1.7" ry="1.9" fill="#3a3ab4" opacity="0.7"/>
<path d="M117.7,179.2 L117.1,183.0 L121.3,184.8 L121.4,184.7 L122.0,184.3 L122.4,183.8 L122.7,183.1 L122.9,182.5 L123.0,181.8 L122.9,181.1 L122.7,180.4 L122.4,179.8 L122.0,179.3 L121.4,178.8 L120.8,178.5 L120.2,178.3 L119.5,178.2 L117.7,179.2Z" fill="#5656cc" stroke="#22229c" stroke-width="1.0"/>
<polygon points="125.2,170.5 131.4,173 124.6,179.2" fill="#000"/>
<polygon points="126.2,200.8 134,198.2 132.2,200.8 134.4,203.6" fill="#000"/>
<line x1="132" y1="200.8" x2="137.5" y2="200.8" stroke="#666" stroke-width="0.6"/>
</g>
<g clip-path="url(#c3)" filter="url(#bl)">
<rect x="153.5" y="165.5" width="72" height="68" fill="#fdfcfa"/>
<circle cx="162.0" cy="182.5" r="5.5" fill="#4a44c4"/>
<circle cx="160.6" cy="181.4" r="2.5" fill="#8c88e0" opacity="0.6"/>
<circle cx="168.0" cy="175.7" r="3.4" fill="#3a34b4"/>
<circle cx="167.7" cy="175.8" r="1.4" fill="#d8d4f4"/>
<circle cx="171.9" cy="182.2" r="3.0" fill="#2c24a8"/>
<circle cx="159.4" cy="190.2" r="3.4" fill="#3a34b4"/>
<circle cx="159.7" cy="190.5" r="1.4" fill="#d8d4f4"/>
<circle cx="156.0" cy="200.5" r="2.3" fill="#2c24a8"/>
<circle cx="156.8" cy="208.2" r="3.4" fill="#3a34b4"/>
<circle cx="156.9" cy="207.9" r="1.4" fill="#d8d4f4"/>
<circle cx="172.2" cy="198.8" r="3.4" fill="#2c24a8"/>
<circle cx="191.9" cy="169.7" r="3.4" fill="#3a34b4"/>
<circle cx="192.1" cy="169.5" r="1.4" fill="#d8d4f4"/>
<ellipse cx="186.8" cy="177.4" rx="6.0" ry="7.2" fill="#b8a8dc" opacity="0.6" filter="url(#bl4)"/>
<circle cx="190.7" cy="198.2" r="2.8" fill="#2c24a8"/>
<circle cx="185.0" cy="207.3" r="4.9" fill="#4a44c4"/>
<circle cx="183.8" cy="206.3" r="2.2" fill="#8c88e0" opacity="0.6"/>
<circle cx="179.0" cy="213.3" r="3.4" fill="#3a34b4"/>
<circle cx="179.1" cy="213.6" r="1.4" fill="#d8d4f4"/>
<circle cx="181.6" cy="221.5" r="3.8" fill="#3a34b4"/>
<circle cx="181.7" cy="221.3" r="1.6" fill="#d8d4f4"/>
<circle cx="190.2" cy="224.4" r="4.9" fill="#4a44c4"/>
<circle cx="189.0" cy="223.4" r="2.2" fill="#8c88e0" opacity="0.6"/>
<circle cx="178.2" cy="227.8" r="3.1" fill="#3a34b4"/>
<circle cx="178.1" cy="228.1" r="1.3" fill="#d8d4f4"/>
<circle cx="187.6" cy="231.2" r="2.9" fill="#2c24a8"/>
<circle cx="198.2" cy="222.7" r="2.3" fill="#2c24a8"/>
<circle cx="199.6" cy="228.7" r="3.4" fill="#3a34b4"/>
<circle cx="199.4" cy="228.8" r="1.4" fill="#d8d4f4"/>
<circle cx="197.9" cy="190.2" r="3.4" fill="#3a34b4"/>
<circle cx="197.8" cy="190.0" r="1.4" fill="#d8d4f4"/>
<circle cx="203.8" cy="186.0" r="3.4" fill="#3a34b4"/>
<circle cx="203.9" cy="185.7" r="1.4" fill="#d8d4f4"/>
<circle cx="208.1" cy="178.2" r="3.4" fill="#3a34b4"/>
<circle cx="207.9" cy="178.1" r="1.4" fill="#d8d4f4"/>
<circle cx="214.1" cy="172.3" r="3.9" fill="#2c24a8"/>
<circle cx="221.8" cy="173.1" r="3.4" fill="#3a34b4"/>
<circle cx="221.5" cy="172.8" r="1.4" fill="#d8d4f4"/>
<circle cx="220.1" cy="183.4" r="4.9" fill="#4a44c4"/>
<circle cx="218.9" cy="182.4" r="2.2" fill="#8c88e0" opacity="0.6"/>
<circle cx="206.4" cy="194.5" r="4.4" fill="#3a34b4"/>
<circle cx="206.4" cy="194.6" r="1.8" fill="#d8d4f4"/>
<circle cx="201.3" cy="197.9" r="3.4" fill="#3a34b4"/>
<circle cx="201.5" cy="197.7" r="1.4" fill="#d8d4f4"/>
<circle cx="209.0" cy="208.2" r="3.9" fill="#2c24a8"/>
<circle cx="203.8" cy="211.6" r="2.3" fill="#2c24a8"/>
<circle cx="204.7" cy="220.1" r="3.9" fill="#3a34b4"/>
<circle cx="204.7" cy="220.0" r="1.6" fill="#d8d4f4"/>
<circle cx="222.6" cy="213.3" r="2.9" fill="#3a34b4"/>
<circle cx="222.7" cy="213.3" r="1.2" fill="#d8d4f4"/>
<circle cx="220.9" cy="231.2" r="2.3" fill="#2c24a8"/>
<ellipse cx="222.6" cy="225.2" rx="3.0" ry="3.6" fill="#b8a8dc" opacity="0.6" filter="url(#bl4)"/>
<circle cx="155.5" cy="218.4" r="2.9" fill="#3a34b4"/>
<circle cx="155.8" cy="218.3" r="1.2" fill="#d8d4f4"/>
<circle cx="156.0" cy="229.5" r="2.9" fill="#3a34b4"/>
<circle cx="155.7" cy="229.6" r="1.2" fill="#d8d4f4"/>
</g>
<text x="274.6" y="158.1" font-size="17.2" text-anchor="start" font-weight="bold" font-style="normal" fill="#000" textLength="11.6" lengthAdjust="spacingAndGlyphs">E</text>
<text x="333.4" y="150.7" font-size="8.8" text-anchor="middle" font-weight="normal" font-style="normal" fill="#000">WT</text>
<text x="376.2" y="150.8" font-size="8.4" text-anchor="start" font-weight="normal" font-style="normal" fill="#000" textLength="60" lengthAdjust="spacingAndGlyphs">FX <tspan font-size="6.6" dy="-3">-/-</tspan><tspan dy="3">, no fucose</tspan></text>
<text x="449.3" y="150.8" font-size="8.4" text-anchor="start" font-weight="normal" font-style="normal" fill="#000" textLength="63" lengthAdjust="spacingAndGlyphs">FX<tspan font-size="6.6" dy="-3">-/-</tspan><tspan dy="3">, with fucose</tspan></text>
<defs><filter id="bl2" x="-50%" y="-50%" width="200%" height="200%"><feGaussianBlur stdDeviation="0.9"/></filter><filter id="bl3" x="-50%" y="-50%" width="200%" height="200%"><feGaussianBlur stdDeviation="1.6"/></filter></defs>
<rect x="300.1" y="155.7" width="66" height="63.4" fill="#fff" stroke="#999" stroke-width="1"/>
<rect x="310.8" y="161.7" width="53.4" height="46.6" fill="#fff" stroke="#aaa" stroke-width="0.9"/>
<line x1="310.8" y1="161.7" x2="310.8" y2="208.29999999999998" stroke="#777" stroke-width="1"/>
<line x1="310.8" y1="208.29999999999998" x2="364.2" y2="208.29999999999998" stroke="#777" stroke-width="1"/>
<line x1="309.5" y1="162.2" x2="310.8" y2="162.2" stroke="#999" stroke-width="0.6"/>
<line x1="309.5" y1="164.2" x2="310.8" y2="164.2" stroke="#999" stroke-width="0.6"/>
<line x1="309.5" y1="166.2" x2="310.8" y2="166.2" stroke="#999" stroke-width="0.6"/>
<line x1="309.5" y1="168.2" x2="310.8" y2="168.2" stroke="#999" stroke-width="0.6"/>
<line x1="309.5" y1="170.2" x2="310.8" y2="170.2" stroke="#999" stroke-width="0.6"/>
<line x1="309.5" y1="172.2" x2="310.8" y2="172.2" stroke="#999" stroke-width="0.6"/>
<line x1="309.5" y1="174.2" x2="310.8" y2="174.2" stroke="#999" stroke-width="0.6"/>
<line x1="309.5" y1="176.2" x2="310.8" y2="176.2" stroke="#999" stroke-width="0.6"/>
<line x1="309.5" y1="178.2" x2="310.8" y2="178.2" stroke="#999" stroke-width="0.6"/>
<line x1="309.5" y1="180.2" x2="310.8" y2="180.2" stroke="#999" stroke-width="0.6"/>
<line x1="309.5" y1="182.2" x2="310.8" y2="182.2" stroke="#999" stroke-width="0.6"/>
<line x1="309.5" y1="184.2" x2="310.8" y2="184.2" stroke="#999" stroke-width="0.6"/>
<line x1="309.5" y1="186.2" x2="310.8" y2="186.2" stroke="#999" stroke-width="0.6"/>
<line x1="309.5" y1="188.2" x2="310.8" y2="188.2" stroke="#999" stroke-width="0.6"/>
<line x1="309.5" y1="190.2" x2="310.8" y2="190.2" stroke="#999" stroke-width="0.6"/>
<line x1="309.5" y1="192.2" x2="310.8" y2="192.2" stroke="#999" stroke-width="0.6"/>
<line x1="309.5" y1="194.2" x2="310.8" y2="194.2" stroke="#999" stroke-width="0.6"/>
<line x1="309.5" y1="196.2" x2="310.8" y2="196.2" stroke="#999" stroke-width="0.6"/>
<line x1="309.5" y1="198.2" x2="310.8" y2="198.2" stroke="#999" stroke-width="0.6"/>
<line x1="309.5" y1="200.2" x2="310.8" y2="200.2" stroke="#999" stroke-width="0.6"/>
<line x1="309.5" y1="202.2" x2="310.8" y2="202.2" stroke="#999" stroke-width="0.6"/>
<line x1="309.5" y1="204.2" x2="310.8" y2="204.2" stroke="#999" stroke-width="0.6"/>
<line x1="309.5" y1="206.2" x2="310.8" y2="206.2" stroke="#999" stroke-width="0.6"/>
<line x1="309.5" y1="208.2" x2="310.8" y2="208.2" stroke="#999" stroke-width="0.6"/>
<line x1="311.3" y1="208.29999999999998" x2="311.3" y2="209.6" stroke="#999" stroke-width="0.6"/>
<line x1="313.3" y1="208.29999999999998" x2="313.3" y2="209.6" stroke="#999" stroke-width="0.6"/>
<line x1="315.3" y1="208.29999999999998" x2="315.3" y2="209.6" stroke="#999" stroke-width="0.6"/>
<line x1="317.3" y1="208.29999999999998" x2="317.3" y2="209.6" stroke="#999" stroke-width="0.6"/>
<line x1="319.3" y1="208.29999999999998" x2="319.3" y2="209.6" stroke="#999" stroke-width="0.6"/>
<line x1="321.3" y1="208.29999999999998" x2="321.3" y2="209.6" stroke="#999" stroke-width="0.6"/>
<line x1="323.3" y1="208.29999999999998" x2="323.3" y2="209.6" stroke="#999" stroke-width="0.6"/>
<line x1="325.3" y1="208.29999999999998" x2="325.3" y2="209.6" stroke="#999" stroke-width="0.6"/>
<line x1="327.3" y1="208.29999999999998" x2="327.3" y2="209.6" stroke="#999" stroke-width="0.6"/>
<line x1="329.3" y1="208.29999999999998" x2="329.3" y2="209.6" stroke="#999" stroke-width="0.6"/>
<line x1="331.3" y1="208.29999999999998" x2="331.3" y2="209.6" stroke="#999" stroke-width="0.6"/>
<line x1="333.3" y1="208.29999999999998" x2="333.3" y2="209.6" stroke="#999" stroke-width="0.6"/>
<line x1="335.3" y1="208.29999999999998" x2="335.3" y2="209.6" stroke="#999" stroke-width="0.6"/>
<line x1="337.3" y1="208.29999999999998" x2="337.3" y2="209.6" stroke="#999" stroke-width="0.6"/>
<line x1="339.3" y1="208.29999999999998" x2="339.3" y2="209.6" stroke="#999" stroke-width="0.6"/>
<line x1="341.3" y1="208.29999999999998" x2="341.3" y2="209.6" stroke="#999" stroke-width="0.6"/>
<line x1="343.3" y1="208.29999999999998" x2="343.3" y2="209.6" stroke="#999" stroke-width="0.6"/>
<line x1="345.3" y1="208.29999999999998" x2="345.3" y2="209.6" stroke="#999" stroke-width="0.6"/>
<line x1="347.3" y1="208.29999999999998" x2="347.3" y2="209.6" stroke="#999" stroke-width="0.6"/>
<line x1="349.3" y1="208.29999999999998" x2="349.3" y2="209.6" stroke="#999" stroke-width="0.6"/>
<line x1="351.3" y1="208.29999999999998" x2="351.3" y2="209.6" stroke="#999" stroke-width="0.6"/>
<line x1="353.3" y1="208.29999999999998" x2="353.3" y2="209.6" stroke="#999" stroke-width="0.6"/>
<line x1="355.3" y1="208.29999999999998" x2="355.3" y2="209.6" stroke="#999" stroke-width="0.6"/>
<line x1="357.3" y1="208.29999999999998" x2="357.3" y2="209.6" stroke="#999" stroke-width="0.6"/>
<line x1="359.3" y1="208.29999999999998" x2="359.3" y2="209.6" stroke="#999" stroke-width="0.6"/>
<line x1="361.3" y1="208.29999999999998" x2="361.3" y2="209.6" stroke="#999" stroke-width="0.6"/>
<line x1="363.3" y1="208.29999999999998" x2="363.3" y2="209.6" stroke="#999" stroke-width="0.6"/>
<line x1="308.3" y1="165.8" x2="310.8" y2="165.8" stroke="#555" stroke-width="0.9"/>
<text x="307.5" y="167.0" font-size="3.6" text-anchor="end" fill="#555">1<tspan dy="-1.3" font-size="2.6">1</tspan></text>
<line x1="308.3" y1="177.9" x2="310.8" y2="177.9" stroke="#555" stroke-width="0.9"/>
<text x="307.5" y="179.1" font-size="3.6" text-anchor="end" fill="#555">1<tspan dy="-1.3" font-size="2.6">1</tspan></text>
<line x1="308.3" y1="189.4" x2="310.8" y2="189.4" stroke="#555" stroke-width="0.9"/>
<text x="307.5" y="190.6" font-size="3.6" text-anchor="end" fill="#555">1<tspan dy="-1.3" font-size="2.6">1</tspan></text>
<line x1="308.3" y1="200.2" x2="310.8" y2="200.2" stroke="#555" stroke-width="0.9"/>
<text x="307.5" y="201.39999999999998" font-size="3.6" text-anchor="end" fill="#555">1<tspan dy="-1.3" font-size="2.6">1</tspan></text>
<line x1="318.6" y1="208.29999999999998" x2="318.6" y2="210.79999999999998" stroke="#555" stroke-width="0.9"/>
<text x="318.6" y="213.29999999999998" font-size="3.6" text-anchor="middle" fill="#555">1<tspan dy="-1.3" font-size="2.6">1</tspan></text>
<line x1="331.8" y1="208.29999999999998" x2="331.8" y2="210.79999999999998" stroke="#555" stroke-width="0.9"/>
<text x="331.8" y="213.29999999999998" font-size="3.6" text-anchor="middle" fill="#555">1<tspan dy="-1.3" font-size="2.6">1</tspan></text>
<line x1="344.9" y1="208.29999999999998" x2="344.9" y2="210.79999999999998" stroke="#555" stroke-width="0.9"/>
<text x="344.9" y="213.29999999999998" font-size="3.6" text-anchor="middle" fill="#555">1<tspan dy="-1.3" font-size="2.6">1</tspan></text>
<line x1="358.1" y1="208.29999999999998" x2="358.1" y2="210.79999999999998" stroke="#555" stroke-width="0.9"/>
<text x="358.1" y="213.29999999999998" font-size="3.6" text-anchor="middle" fill="#555">1<tspan dy="-1.3" font-size="2.6">1</tspan></text>
<g filter="url(#bl3)"><ellipse cx="327.0" cy="189.5" rx="5" ry="3.5" fill="#f4b8e4" opacity="0.7"/></g>
<g filter="url(#bl2)"><ellipse cx="335.5" cy="189.3" rx="5.2" ry="2.8" fill="#e040c0"/><ellipse cx="334.0" cy="196.5" rx="3.8" ry="4" fill="#70a8f0"/><ellipse cx="334.0" cy="193.4" rx="3" ry="1.2" fill="#3060e0"/><ellipse cx="326.0" cy="197" rx="2.8" ry="3.4" fill="#f8d8b0"/></g>
<rect x="329.5" y="183.3" width="12.6" height="9.2" fill="none" stroke="#9a8070" stroke-width="0.8"/>
<rect x="329.5" y="192.5" width="12.6" height="9.2" fill="none" stroke="#9a8070" stroke-width="0.8"/>
<rect x="322.5" y="193.2" width="7.0" height="8.4" fill="none" stroke="#9a8070" stroke-width="0.8"/>
<rect x="374.8" y="155.7" width="66.2" height="63.4" fill="#fff" stroke="#999" stroke-width="1"/>
<rect x="385.5" y="161.7" width="53.6" height="46.6" fill="#fff" stroke="#aaa" stroke-width="0.9"/>
<line x1="385.5" y1="161.7" x2="385.5" y2="208.29999999999998" stroke="#777" stroke-width="1"/>
<line x1="385.5" y1="208.29999999999998" x2="439.1" y2="208.29999999999998" stroke="#777" stroke-width="1"/>
<line x1="384.2" y1="162.2" x2="385.5" y2="162.2" stroke="#999" stroke-width="0.6"/>
<line x1="384.2" y1="164.2" x2="385.5" y2="164.2" stroke="#999" stroke-width="0.6"/>
<line x1="384.2" y1="166.2" x2="385.5" y2="166.2" stroke="#999" stroke-width="0.6"/>
<line x1="384.2" y1="168.2" x2="385.5" y2="168.2" stroke="#999" stroke-width="0.6"/>
<line x1="384.2" y1="170.2" x2="385.5" y2="170.2" stroke="#999" stroke-width="0.6"/>
<line x1="384.2" y1="172.2" x2="385.5" y2="172.2" stroke="#999" stroke-width="0.6"/>
<line x1="384.2" y1="174.2" x2="385.5" y2="174.2" stroke="#999" stroke-width="0.6"/>
<line x1="384.2" y1="176.2" x2="385.5" y2="176.2" stroke="#999" stroke-width="0.6"/>
<line x1="384.2" y1="178.2" x2="385.5" y2="178.2" stroke="#999" stroke-width="0.6"/>
<line x1="384.2" y1="180.2" x2="385.5" y2="180.2" stroke="#999" stroke-width="0.6"/>
<line x1="384.2" y1="182.2" x2="385.5" y2="182.2" stroke="#999" stroke-width="0.6"/>
<line x1="384.2" y1="184.2" x2="385.5" y2="184.2" stroke="#999" stroke-width="0.6"/>
<line x1="384.2" y1="186.2" x2="385.5" y2="186.2" stroke="#999" stroke-width="0.6"/>
<line x1="384.2" y1="188.2" x2="385.5" y2="188.2" stroke="#999" stroke-width="0.6"/>
<line x1="384.2" y1="190.2" x2="385.5" y2="190.2" stroke="#999" stroke-width="0.6"/>
<line x1="384.2" y1="192.2" x2="385.5" y2="192.2" stroke="#999" stroke-width="0.6"/>
<line x1="384.2" y1="194.2" x2="385.5" y2="194.2" stroke="#999" stroke-width="0.6"/>
<line x1="384.2" y1="196.2" x2="385.5" y2="196.2" stroke="#999" stroke-width="0.6"/>
<line x1="384.2" y1="198.2" x2="385.5" y2="198.2" stroke="#999" stroke-width="0.6"/>
<line x1="384.2" y1="200.2" x2="385.5" y2="200.2" stroke="#999" stroke-width="0.6"/>
<line x1="384.2" y1="202.2" x2="385.5" y2="202.2" stroke="#999" stroke-width="0.6"/>
<line x1="384.2" y1="204.2" x2="385.5" y2="204.2" stroke="#999" stroke-width="0.6"/>
<line x1="384.2" y1="206.2" x2="385.5" y2="206.2" stroke="#999" stroke-width="0.6"/>
<line x1="384.2" y1="208.2" x2="385.5" y2="208.2" stroke="#999" stroke-width="0.6"/>
<line x1="386.0" y1="208.29999999999998" x2="386.0" y2="209.6" stroke="#999" stroke-width="0.6"/>
<line x1="388.0" y1="208.29999999999998" x2="388.0" y2="209.6" stroke="#999" stroke-width="0.6"/>
<line x1="390.0" y1="208.29999999999998" x2="390.0" y2="209.6" stroke="#999" stroke-width="0.6"/>
<line x1="392.0" y1="208.29999999999998" x2="392.0" y2="209.6" stroke="#999" stroke-width="0.6"/>
<line x1="394.0" y1="208.29999999999998" x2="394.0" y2="209.6" stroke="#999" stroke-width="0.6"/>
<line x1="396.0" y1="208.29999999999998" x2="396.0" y2="209.6" stroke="#999" stroke-width="0.6"/>
<line x1="398.0" y1="208.29999999999998" x2="398.0" y2="209.6" stroke="#999" stroke-width="0.6"/>
<line x1="400.0" y1="208.29999999999998" x2="400.0" y2="209.6" stroke="#999" stroke-width="0.6"/>
<line x1="402.0" y1="208.29999999999998" x2="402.0" y2="209.6" stroke="#999" stroke-width="0.6"/>
<line x1="404.0" y1="208.29999999999998" x2="404.0" y2="209.6" stroke="#999" stroke-width="0.6"/>
<line x1="406.0" y1="208.29999999999998" x2="406.0" y2="209.6" stroke="#999" stroke-width="0.6"/>
<line x1="408.0" y1="208.29999999999998" x2="408.0" y2="209.6" stroke="#999" stroke-width="0.6"/>
<line x1="410.0" y1="208.29999999999998" x2="410.0" y2="209.6" stroke="#999" stroke-width="0.6"/>
<line x1="412.0" y1="208.29999999999998" x2="412.0" y2="209.6" stroke="#999" stroke-width="0.6"/>
<line x1="414.0" y1="208.29999999999998" x2="414.0" y2="209.6" stroke="#999" stroke-width="0.6"/>
<line x1="416.0" y1="208.29999999999998" x2="416.0" y2="209.6" stroke="#999" stroke-width="0.6"/>
<line x1="418.0" y1="208.29999999999998" x2="418.0" y2="209.6" stroke="#999" stroke-width="0.6"/>
<line x1="420.0" y1="208.29999999999998" x2="420.0" y2="209.6" stroke="#999" stroke-width="0.6"/>
<line x1="422.0" y1="208.29999999999998" x2="422.0" y2="209.6" stroke="#999" stroke-width="0.6"/>
<line x1="424.0" y1="208.29999999999998" x2="424.0" y2="209.6" stroke="#999" stroke-width="0.6"/>
<line x1="426.0" y1="208.29999999999998" x2="426.0" y2="209.6" stroke="#999" stroke-width="0.6"/>
<line x1="428.0" y1="208.29999999999998" x2="428.0" y2="209.6" stroke="#999" stroke-width="0.6"/>
<line x1="430.0" y1="208.29999999999998" x2="430.0" y2="209.6" stroke="#999" stroke-width="0.6"/>
<line x1="432.0" y1="208.29999999999998" x2="432.0" y2="209.6" stroke="#999" stroke-width="0.6"/>
<line x1="434.0" y1="208.29999999999998" x2="434.0" y2="209.6" stroke="#999" stroke-width="0.6"/>
<line x1="436.0" y1="208.29999999999998" x2="436.0" y2="209.6" stroke="#999" stroke-width="0.6"/>
<line x1="438.0" y1="208.29999999999998" x2="438.0" y2="209.6" stroke="#999" stroke-width="0.6"/>
<line x1="383.0" y1="165.8" x2="385.5" y2="165.8" stroke="#555" stroke-width="0.9"/>
<text x="382.2" y="167.0" font-size="3.6" text-anchor="end" fill="#555">1<tspan dy="-1.3" font-size="2.6">1</tspan></text>
<line x1="383.0" y1="177.9" x2="385.5" y2="177.9" stroke="#555" stroke-width="0.9"/>
<text x="382.2" y="179.1" font-size="3.6" text-anchor="end" fill="#555">1<tspan dy="-1.3" font-size="2.6">1</tspan></text>
<line x1="383.0" y1="189.4" x2="385.5" y2="189.4" stroke="#555" stroke-width="0.9"/>
<text x="382.2" y="190.6" font-size="3.6" text-anchor="end" fill="#555">1<tspan dy="-1.3" font-size="2.6">1</tspan></text>
<line x1="383.0" y1="200.2" x2="385.5" y2="200.2" stroke="#555" stroke-width="0.9"/>
<text x="382.2" y="201.39999999999998" font-size="3.6" text-anchor="end" fill="#555">1<tspan dy="-1.3" font-size="2.6">1</tspan></text>
<line x1="393.3" y1="208.29999999999998" x2="393.3" y2="210.79999999999998" stroke="#555" stroke-width="0.9"/>
<text x="393.3" y="213.29999999999998" font-size="3.6" text-anchor="middle" fill="#555">1<tspan dy="-1.3" font-size="2.6">1</tspan></text>
<line x1="406.5" y1="208.29999999999998" x2="406.5" y2="210.79999999999998" stroke="#555" stroke-width="0.9"/>
<text x="406.5" y="213.29999999999998" font-size="3.6" text-anchor="middle" fill="#555">1<tspan dy="-1.3" font-size="2.6">1</tspan></text>
<line x1="419.59999999999997" y1="208.29999999999998" x2="419.59999999999997" y2="210.79999999999998" stroke="#555" stroke-width="0.9"/>
<text x="419.59999999999997" y="213.29999999999998" font-size="3.6" text-anchor="middle" fill="#555">1<tspan dy="-1.3" font-size="2.6">1</tspan></text>
<line x1="432.8" y1="208.29999999999998" x2="432.8" y2="210.79999999999998" stroke="#555" stroke-width="0.9"/>
<text x="432.8" y="213.29999999999998" font-size="3.6" text-anchor="middle" fill="#555">1<tspan dy="-1.3" font-size="2.6">1</tspan></text>
<g filter="url(#bl2)"><ellipse cx="410.90000000000003" cy="187.9" rx="6" ry="4.2" fill="#ec88d8"/><ellipse cx="412.1" cy="187" rx="3.8" ry="2.2" fill="#e040c0"/><ellipse cx="409.1" cy="196.8" rx="3" ry="5" fill="#80a8ec" transform="rotate(35 409.1 196.8)"/><ellipse cx="408.1" cy="194" rx="2.5" ry="1.5" fill="#4878e0"/><ellipse cx="400.0" cy="197.4" rx="3.2" ry="3.4" fill="#fae4cc"/></g>
<rect x="404.6" y="183.3" width="12.6" height="9.2" fill="none" stroke="#9a8070" stroke-width="0.8"/>
<rect x="404.6" y="192.5" width="12.6" height="9.2" fill="none" stroke="#9a8070" stroke-width="0.8"/>
<rect x="396.0" y="193.2" width="8.600000000000023" height="8.4" fill="none" stroke="#9a8070" stroke-width="0.8"/>
<rect x="449.7" y="155.7" width="66.7" height="63.4" fill="#fff" stroke="#999" stroke-width="1"/>
<rect x="460.4" y="161.7" width="54.1" height="46.6" fill="#fff" stroke="#aaa" stroke-width="0.9"/>
<line x1="460.4" y1="161.7" x2="460.4" y2="208.29999999999998" stroke="#777" stroke-width="1"/>
<line x1="460.4" y1="208.29999999999998" x2="514.5" y2="208.29999999999998" stroke="#777" stroke-width="1"/>
<line x1="459.09999999999997" y1="162.2" x2="460.4" y2="162.2" stroke="#999" stroke-width="0.6"/>
<line x1="459.09999999999997" y1="164.2" x2="460.4" y2="164.2" stroke="#999" stroke-width="0.6"/>
<line x1="459.09999999999997" y1="166.2" x2="460.4" y2="166.2" stroke="#999" stroke-width="0.6"/>
<line x1="459.09999999999997" y1="168.2" x2="460.4" y2="168.2" stroke="#999" stroke-width="0.6"/>
<line x1="459.09999999999997" y1="170.2" x2="460.4" y2="170.2" stroke="#999" stroke-width="0.6"/>
<line x1="459.09999999999997" y1="172.2" x2="460.4" y2="172.2" stroke="#999" stroke-width="0.6"/>
<line x1="459.09999999999997" y1="174.2" x2="460.4" y2="174.2" stroke="#999" stroke-width="0.6"/>
<line x1="459.09999999999997" y1="176.2" x2="460.4" y2="176.2" stroke="#999" stroke-width="0.6"/>
<line x1="459.09999999999997" y1="178.2" x2="460.4" y2="178.2" stroke="#999" stroke-width="0.6"/>
<line x1="459.09999999999997" y1="180.2" x2="460.4" y2="180.2" stroke="#999" stroke-width="0.6"/>
<line x1="459.09999999999997" y1="182.2" x2="460.4" y2="182.2" stroke="#999" stroke-width="0.6"/>
<line x1="459.09999999999997" y1="184.2" x2="460.4" y2="184.2" stroke="#999" stroke-width="0.6"/>
<line x1="459.09999999999997" y1="186.2" x2="460.4" y2="186.2" stroke="#999" stroke-width="0.6"/>
<line x1="459.09999999999997" y1="188.2" x2="460.4" y2="188.2" stroke="#999" stroke-width="0.6"/>
<line x1="459.09999999999997" y1="190.2" x2="460.4" y2="190.2" stroke="#999" stroke-width="0.6"/>
<line x1="459.09999999999997" y1="192.2" x2="460.4" y2="192.2" stroke="#999" stroke-width="0.6"/>
<line x1="459.09999999999997" y1="194.2" x2="460.4" y2="194.2" stroke="#999" stroke-width="0.6"/>
<line x1="459.09999999999997" y1="196.2" x2="460.4" y2="196.2" stroke="#999" stroke-width="0.6"/>
<line x1="459.09999999999997" y1="198.2" x2="460.4" y2="198.2" stroke="#999" stroke-width="0.6"/>
<line x1="459.09999999999997" y1="200.2" x2="460.4" y2="200.2" stroke="#999" stroke-width="0.6"/>
<line x1="459.09999999999997" y1="202.2" x2="460.4" y2="202.2" stroke="#999" stroke-width="0.6"/>
<line x1="459.09999999999997" y1="204.2" x2="460.4" y2="204.2" stroke="#999" stroke-width="0.6"/>
<line x1="459.09999999999997" y1="206.2" x2="460.4" y2="206.2" stroke="#999" stroke-width="0.6"/>
<line x1="459.09999999999997" y1="208.2" x2="460.4" y2="208.2" stroke="#999" stroke-width="0.6"/>
<line x1="460.9" y1="208.29999999999998" x2="460.9" y2="209.6" stroke="#999" stroke-width="0.6"/>
<line x1="462.9" y1="208.29999999999998" x2="462.9" y2="209.6" stroke="#999" stroke-width="0.6"/>
<line x1="464.9" y1="208.29999999999998" x2="464.9" y2="209.6" stroke="#999" stroke-width="0.6"/>
<line x1="466.9" y1="208.29999999999998" x2="466.9" y2="209.6" stroke="#999" stroke-width="0.6"/>
<line x1="468.9" y1="208.29999999999998" x2="468.9" y2="209.6" stroke="#999" stroke-width="0.6"/>
<line x1="470.9" y1="208.29999999999998" x2="470.9" y2="209.6" stroke="#999" stroke-width="0.6"/>
<line x1="472.9" y1="208.29999999999998" x2="472.9" y2="209.6" stroke="#999" stroke-width="0.6"/>
<line x1="474.9" y1="208.29999999999998" x2="474.9" y2="209.6" stroke="#999" stroke-width="0.6"/>
<line x1="476.9" y1="208.29999999999998" x2="476.9" y2="209.6" stroke="#999" stroke-width="0.6"/>
<line x1="478.9" y1="208.29999999999998" x2="478.9" y2="209.6" stroke="#999" stroke-width="0.6"/>
<line x1="480.9" y1="208.29999999999998" x2="480.9" y2="209.6" stroke="#999" stroke-width="0.6"/>
<line x1="482.9" y1="208.29999999999998" x2="482.9" y2="209.6" stroke="#999" stroke-width="0.6"/>
<line x1="484.9" y1="208.29999999999998" x2="484.9" y2="209.6" stroke="#999" stroke-width="0.6"/>
<line x1="486.9" y1="208.29999999999998" x2="486.9" y2="209.6" stroke="#999" stroke-width="0.6"/>
<line x1="488.9" y1="208.29999999999998" x2="488.9" y2="209.6" stroke="#999" stroke-width="0.6"/>
<line x1="490.9" y1="208.29999999999998" x2="490.9" y2="209.6" stroke="#999" stroke-width="0.6"/>
<line x1="492.9" y1="208.29999999999998" x2="492.9" y2="209.6" stroke="#999" stroke-width="0.6"/>
<line x1="494.9" y1="208.29999999999998" x2="494.9" y2="209.6" stroke="#999" stroke-width="0.6"/>
<line x1="496.9" y1="208.29999999999998" x2="496.9" y2="209.6" stroke="#999" stroke-width="0.6"/>
<line x1="498.9" y1="208.29999999999998" x2="498.9" y2="209.6" stroke="#999" stroke-width="0.6"/>
<line x1="500.9" y1="208.29999999999998" x2="500.9" y2="209.6" stroke="#999" stroke-width="0.6"/>
<line x1="502.9" y1="208.29999999999998" x2="502.9" y2="209.6" stroke="#999" stroke-width="0.6"/>
<line x1="504.9" y1="208.29999999999998" x2="504.9" y2="209.6" stroke="#999" stroke-width="0.6"/>
<line x1="506.9" y1="208.29999999999998" x2="506.9" y2="209.6" stroke="#999" stroke-width="0.6"/>
<line x1="508.9" y1="208.29999999999998" x2="508.9" y2="209.6" stroke="#999" stroke-width="0.6"/>
<line x1="510.9" y1="208.29999999999998" x2="510.9" y2="209.6" stroke="#999" stroke-width="0.6"/>
<line x1="512.9" y1="208.29999999999998" x2="512.9" y2="209.6" stroke="#999" stroke-width="0.6"/>
<line x1="457.9" y1="165.8" x2="460.4" y2="165.8" stroke="#555" stroke-width="0.9"/>
<text x="457.09999999999997" y="167.0" font-size="3.6" text-anchor="end" fill="#555">1<tspan dy="-1.3" font-size="2.6">1</tspan></text>
<line x1="457.9" y1="177.9" x2="460.4" y2="177.9" stroke="#555" stroke-width="0.9"/>
<text x="457.09999999999997" y="179.1" font-size="3.6" text-anchor="end" fill="#555">1<tspan dy="-1.3" font-size="2.6">1</tspan></text>
<line x1="457.9" y1="189.4" x2="460.4" y2="189.4" stroke="#555" stroke-width="0.9"/>
<text x="457.09999999999997" y="190.6" font-size="3.6" text-anchor="end" fill="#555">1<tspan dy="-1.3" font-size="2.6">1</tspan></text>
<line x1="457.9" y1="200.2" x2="460.4" y2="200.2" stroke="#555" stroke-width="0.9"/>
<text x="457.09999999999997" y="201.39999999999998" font-size="3.6" text-anchor="end" fill="#555">1<tspan dy="-1.3" font-size="2.6">1</tspan></text>
<line x1="468.2" y1="208.29999999999998" x2="468.2" y2="210.79999999999998" stroke="#555" stroke-width="0.9"/>
<text x="468.2" y="213.29999999999998" font-size="3.6" text-anchor="middle" fill="#555">1<tspan dy="-1.3" font-size="2.6">1</tspan></text>
<line x1="481.4" y1="208.29999999999998" x2="481.4" y2="210.79999999999998" stroke="#555" stroke-width="0.9"/>
<text x="481.4" y="213.29999999999998" font-size="3.6" text-anchor="middle" fill="#555">1<tspan dy="-1.3" font-size="2.6">1</tspan></text>
<line x1="494.49999999999994" y1="208.29999999999998" x2="494.49999999999994" y2="210.79999999999998" stroke="#555" stroke-width="0.9"/>
<text x="494.49999999999994" y="213.29999999999998" font-size="3.6" text-anchor="middle" fill="#555">1<tspan dy="-1.3" font-size="2.6">1</tspan></text>
<line x1="507.7" y1="208.29999999999998" x2="507.7" y2="210.79999999999998" stroke="#555" stroke-width="0.9"/>
<text x="507.7" y="213.29999999999998" font-size="3.6" text-anchor="middle" fill="#555">1<tspan dy="-1.3" font-size="2.6">1</tspan></text>
<g filter="url(#bl2)"><ellipse cx="485.90000000000003" cy="187.9" rx="6" ry="4.2" fill="#ec88d8"/><ellipse cx="487.1" cy="187" rx="3.8" ry="2.2" fill="#e040c0"/><ellipse cx="484.1" cy="196.8" rx="3" ry="5" fill="#80a8ec" transform="rotate(35 484.1 196.8)"/><ellipse cx="483.1" cy="194" rx="2.5" ry="1.5" fill="#4878e0"/><ellipse cx="475.9" cy="197.4" rx="3.2" ry="3.4" fill="#fae4cc"/></g>
<rect x="479.6" y="183.3" width="12.9" height="9.2" fill="none" stroke="#9a8070" stroke-width="0.8"/>
<rect x="479.6" y="192.5" width="12.9" height="9.2" fill="none" stroke="#9a8070" stroke-width="0.8"/>
<rect x="471.9" y="193.2" width="7.7000000000000455" height="8.4" fill="none" stroke="#9a8070" stroke-width="0.8"/>
<text x="344" y="190.8" font-size="7.2" text-anchor="start" font-weight="normal" font-style="normal" fill="#000" textLength="13.2" lengthAdjust="spacingAndGlyphs">GMP</text>
<text x="344" y="201.5" font-size="7.2" text-anchor="start" font-weight="normal" font-style="normal" fill="#000" textLength="13.2" lengthAdjust="spacingAndGlyphs">CMP</text>
<text x="312.2" y="208.2" font-size="7.2" text-anchor="start" font-weight="normal" font-style="normal" fill="#000" textLength="14.2" lengthAdjust="spacingAndGlyphs">MEP</text>
<line x1="293.4" y1="207" x2="293.4" y2="232.1" stroke="#888" stroke-width="1"/>
<line x1="293.4" y1="232.1" x2="319" y2="232.1" stroke="#888" stroke-width="1"/>
<polygon points="293.5,200.3 291.1,207.9 296.0,207.9" fill="#000"/>
<polygon points="327.2,232.1 319.2,229.6 319.2,234.6" fill="#000"/>
<text x="287.2" y="216.9" font-size="7.8" text-anchor="middle" font-weight="normal" font-style="normal" fill="#000" transform="rotate(-90 287.2 216.9)" textLength="30.6" lengthAdjust="spacingAndGlyphs">FcRII/III</text>
<text x="294.2" y="243.5" font-size="8" text-anchor="start" font-weight="normal" font-style="normal" fill="#000" textLength="18.6" lengthAdjust="spacingAndGlyphs">CD34</text>
<text x="0.4" y="265.6" font-size="16.4" text-anchor="start" font-weight="bold" font-style="normal" fill="#000" textLength="13.1" lengthAdjust="spacingAndGlyphs">C</text>
<line x1="29.6" y1="281.3" x2="29.6" y2="394.0" stroke="#777" stroke-width="1"/>
<line x1="27.6" y1="394.0" x2="29.6" y2="394.0" stroke="#777" stroke-width="1"/>
<text x="22.6" y="396.3" font-size="8" text-anchor="end" font-weight="normal" font-style="normal" fill="#222">0</text>
<line x1="27.6" y1="377.9" x2="29.6" y2="377.9" stroke="#777" stroke-width="1"/>
<text x="22.6" y="380.2" font-size="8" text-anchor="end" font-weight="normal" font-style="normal" fill="#222">5</text>
<line x1="27.6" y1="361.8" x2="29.6" y2="361.8" stroke="#777" stroke-width="1"/>
<text x="22.6" y="364.1" font-size="8" text-anchor="end" font-weight="normal" font-style="normal" fill="#222">10</text>
<line x1="27.6" y1="345.7" x2="29.6" y2="345.7" stroke="#777" stroke-width="1"/>
<text x="22.6" y="348.0" font-size="8" text-anchor="end" font-weight="normal" font-style="normal" fill="#222">15</text>
<line x1="27.6" y1="329.6" x2="29.6" y2="329.6" stroke="#777" stroke-width="1"/>
<text x="22.6" y="331.90000000000003" font-size="8" text-anchor="end" font-weight="normal" font-style="normal" fill="#222">20</text>
<line x1="27.6" y1="313.5" x2="29.6" y2="313.5" stroke="#777" stroke-width="1"/>
<text x="22.6" y="315.8" font-size="8" text-anchor="end" font-weight="normal" font-style="normal" fill="#222">25</text>
<line x1="27.6" y1="297.4" x2="29.6" y2="297.4" stroke="#777" stroke-width="1"/>
<text x="22.6" y="299.7" font-size="8" text-anchor="end" font-weight="normal" font-style="normal" fill="#222">30</text>
<line x1="27.6" y1="281.3" x2="29.6" y2="281.3" stroke="#777" stroke-width="1"/>
<text x="22.6" y="283.6" font-size="8" text-anchor="end" font-weight="normal" font-style="normal" fill="#222">35</text>
<text x="8.1" y="338.1" font-size="8.4" text-anchor="middle" font-weight="bold" font-style="normal" fill="#000" transform="rotate(-90 8.1 338.1)" textLength="68" lengthAdjust="spacingAndGlyphs">% of Total BMNC</text>
<line x1="29.6" y1="394.0" x2="256.6" y2="394.0" stroke="#777" stroke-width="1"/>
<line x1="29.6" y1="394.0" x2="29.6" y2="396.0" stroke="#777" stroke-width="1"/>
<line x1="86.4" y1="394.0" x2="86.4" y2="396.0" stroke="#777" stroke-width="1"/>
<line x1="143.2" y1="394.0" x2="143.2" y2="396.0" stroke="#777" stroke-width="1"/>
<line x1="199.99999999999997" y1="394.0" x2="199.99999999999997" y2="396.0" stroke="#777" stroke-width="1"/>
<line x1="256.8" y1="394.0" x2="256.8" y2="396.0" stroke="#777" stroke-width="1"/>
<line x1="45.150000000000006" y1="382.3" x2="45.150000000000006" y2="380.6" stroke="#333" stroke-width="1"/>
<line x1="43.150000000000006" y1="380.6" x2="47.150000000000006" y2="380.6" stroke="#333" stroke-width="1"/>
<rect x="39.2" y="382.8" width="11.899999999999999" height="10.699999999999989" fill="#fff" stroke="#222" stroke-width="1"/>
<line x1="58.099999999999994" y1="352.2" x2="58.099999999999994" y2="351.1" stroke="#333" stroke-width="1"/>
<line x1="56.099999999999994" y1="351.1" x2="60.099999999999994" y2="351.1" stroke="#333" stroke-width="1"/>
<rect x="52.1" y="352.7" width="11.999999999999993" height="40.80000000000001" fill="#000" stroke="#222" stroke-width="1"/>
<line x1="70.69999999999999" y1="378.1" x2="70.69999999999999" y2="375.3" stroke="#333" stroke-width="1"/>
<line x1="68.69999999999999" y1="375.3" x2="72.69999999999999" y2="375.3" stroke="#333" stroke-width="1"/>
<rect x="65.1" y="378.6" width="11.200000000000003" height="14.899999999999977" fill="#999" stroke="#222" stroke-width="1"/>
<line x1="101.45" y1="363.6" x2="101.45" y2="357.7" stroke="#333" stroke-width="1"/>
<line x1="99.45" y1="357.7" x2="103.45" y2="357.7" stroke="#333" stroke-width="1"/>
<rect x="95.7" y="364.1" width="11.5" height="29.399999999999977" fill="#fff" stroke="#222" stroke-width="1"/>
<line x1="114.0" y1="359.1" x2="114.0" y2="355.5" stroke="#333" stroke-width="1"/>
<line x1="112.0" y1="355.5" x2="116.0" y2="355.5" stroke="#333" stroke-width="1"/>
<rect x="108.2" y="359.6" width="11.599999999999994" height="33.89999999999998" fill="#000" stroke="#222" stroke-width="1"/>
<line x1="126.5" y1="366.3" x2="126.5" y2="361.8" stroke="#333" stroke-width="1"/>
<line x1="124.5" y1="361.8" x2="128.5" y2="361.8" stroke="#333" stroke-width="1"/>
<rect x="120.8" y="366.8" width="11.399999999999991" height="26.69999999999999" fill="#999" stroke="#222" stroke-width="1"/>
<line x1="157.5" y1="351.8" x2="157.5" y2="342.6" stroke="#333" stroke-width="1"/>
<line x1="155.5" y1="342.6" x2="159.5" y2="342.6" stroke="#333" stroke-width="1"/>
<rect x="151.9" y="352.3" width="11.199999999999989" height="41.19999999999999" fill="#fff" stroke="#222" stroke-width="1"/>
<line x1="170.1" y1="328.1" x2="170.1" y2="316.7" stroke="#333" stroke-width="1"/>
<line x1="168.1" y1="316.7" x2="172.1" y2="316.7" stroke="#333" stroke-width="1"/>
<rect x="164.1" y="328.6" width="12.0" height="64.89999999999998" fill="#000" stroke="#222" stroke-width="1"/>
<line x1="182.45" y1="342.1" x2="182.45" y2="336.5" stroke="#333" stroke-width="1"/>
<line x1="180.45" y1="336.5" x2="184.45" y2="336.5" stroke="#333" stroke-width="1"/>
<rect x="177.1" y="342.6" width="10.700000000000017" height="50.89999999999998" fill="#999" stroke="#222" stroke-width="1"/>
<line x1="213.8" y1="322.5" x2="213.8" y2="318.7" stroke="#333" stroke-width="1"/>
<line x1="211.8" y1="318.7" x2="215.8" y2="318.7" stroke="#333" stroke-width="1"/>
<rect x="208.2" y="323.0" width="11.200000000000017" height="70.5" fill="#fff" stroke="#222" stroke-width="1"/>
<line x1="226.35000000000002" y1="309" x2="226.35000000000002" y2="301.4" stroke="#333" stroke-width="1"/>
<line x1="224.35000000000002" y1="301.4" x2="228.35000000000002" y2="301.4" stroke="#333" stroke-width="1"/>
<rect x="220.4" y="309.5" width="11.900000000000006" height="84.0" fill="#000" stroke="#222" stroke-width="1"/>
<line x1="238.9" y1="328" x2="238.9" y2="321" stroke="#333" stroke-width="1"/>
<line x1="236.9" y1="321" x2="240.9" y2="321" stroke="#333" stroke-width="1"/>
<rect x="233.3" y="328.5" width="11.199999999999989" height="65.0" fill="#999" stroke="#222" stroke-width="1"/>
<circle cx="58.6" cy="342.2" r="1.3" fill="#000"/>
<path d="M169.36,308.2 L169.00,312.7 M170.98,308.2 L170.62,312.7 M168.1,309.69 L171.7,309.69 M168.1,311.35 L171.7,311.35" stroke="#111" stroke-width="1.0" fill="none"/>
<path d="M224.73,290.3 L224.35,294.8 M226.44,290.3 L226.06,294.8 M223.4,291.79 L227.20000000000002,291.79 M223.4,293.45 L227.20000000000002,293.45" stroke="#111" stroke-width="1.0" fill="none"/>
<text x="58.6" y="409.0" font-size="8.2" text-anchor="middle" font-weight="normal" font-style="normal" fill="#3a3a3a" textLength="35.8" lengthAdjust="spacingAndGlyphs">Myeloblast</text>
<text x="57.95" y="419.2" font-size="8.2" text-anchor="middle" font-weight="normal" font-style="normal" fill="#3a3a3a" textLength="47.3" lengthAdjust="spacingAndGlyphs">Promyelocyte</text>
<text x="58.25" y="429.2" font-size="8.2" text-anchor="middle" font-weight="normal" font-style="normal" fill="#3a3a3a" textLength="34.1" lengthAdjust="spacingAndGlyphs">Myelocyte</text>
<text x="114.05" y="408.8" font-size="8.2" text-anchor="middle" font-weight="normal" font-style="normal" fill="#3a3a3a" textLength="19.0" lengthAdjust="spacingAndGlyphs">Meta-</text>
<text x="114.25" y="418.8" font-size="8.2" text-anchor="middle" font-weight="normal" font-style="normal" fill="#3a3a3a" textLength="34.6" lengthAdjust="spacingAndGlyphs">myelocyte</text>
<text x="169.85" y="408.6" font-size="8.2" text-anchor="middle" font-weight="normal" font-style="normal" fill="#3a3a3a" textLength="38.4" lengthAdjust="spacingAndGlyphs">Bands and</text>
<text x="169.85" y="418.6" font-size="8.2" text-anchor="middle" font-weight="normal" font-style="normal" fill="#3a3a3a" textLength="20.4" lengthAdjust="spacingAndGlyphs">Rings</text>
<text x="227" y="408.6" font-size="8.2" text-anchor="middle" font-weight="normal" font-style="normal" fill="#3a3a3a" textLength="22.9" lengthAdjust="spacingAndGlyphs">Mature</text>
<text x="225.65" y="418.6" font-size="8.2" text-anchor="middle" font-weight="normal" font-style="normal" fill="#3a3a3a" textLength="38.2" lengthAdjust="spacingAndGlyphs">Neutrophils</text>
<path d="M203.93,263 L203.55,267.8 M205.64,263 L205.26,267.8 M202.6,264.58 L206.4,264.58 M202.6,266.36 L206.4,266.36" stroke="#111" stroke-width="1.0" fill="none"/>
<text x="210.9" y="267.7" font-size="10.3" text-anchor="start" font-weight="normal" font-style="normal" fill="#000" textLength="35.3" lengthAdjust="spacingAndGlyphs"><tspan font-style="italic">P</tspan> &lt; .05</text>
<circle cx="204.5" cy="273.5" r="0.9" fill="#000"/>
<text x="211.9" y="279.3" font-size="10.3" text-anchor="start" font-weight="normal" font-style="normal" fill="#000" textLength="34.3" lengthAdjust="spacingAndGlyphs"><tspan font-style="italic">P</tspan> &lt; .01</text>
<text x="273.3" y="265.1" font-size="16.6" text-anchor="start" font-weight="bold" font-style="normal" fill="#000" textLength="10.9" lengthAdjust="spacingAndGlyphs">F</text>
<line x1="311.25" y1="281.25" x2="311.25" y2="393.75" stroke="#888" stroke-width="1"/>
<line x1="309.25" y1="393.75" x2="311.25" y2="393.75" stroke="#888" stroke-width="1"/>
<text x="305" y="395.95" font-size="6.3" text-anchor="end" font-weight="normal" font-style="normal" fill="#555">0</text>
<line x1="309.25" y1="382.5" x2="311.25" y2="382.5" stroke="#888" stroke-width="1"/>
<text x="305" y="384.7" font-size="6.3" text-anchor="end" font-weight="normal" font-style="normal" fill="#555">500</text>
<line x1="309.25" y1="371.25" x2="311.25" y2="371.25" stroke="#888" stroke-width="1"/>
<text x="305" y="373.45" font-size="6.3" text-anchor="end" font-weight="normal" font-style="normal" fill="#555">1000</text>
<line x1="309.25" y1="360.0" x2="311.25" y2="360.0" stroke="#888" stroke-width="1"/>
<text x="305" y="362.2" font-size="6.3" text-anchor="end" font-weight="normal" font-style="normal" fill="#555">1500</text>
<line x1="309.25" y1="348.75" x2="311.25" y2="348.75" stroke="#888" stroke-width="1"/>
<text x="305" y="350.95" font-size="6.3" text-anchor="end" font-weight="normal" font-style="normal" fill="#555">2000</text>
<line x1="309.25" y1="337.5" x2="311.25" y2="337.5" stroke="#888" stroke-width="1"/>
<text x="305" y="339.7" font-size="6.3" text-anchor="end" font-weight="normal" font-style="normal" fill="#555">2500</text>
<line x1="309.25" y1="326.25" x2="311.25" y2="326.25" stroke="#888" stroke-width="1"/>
<text x="305" y="328.45" font-size="6.3" text-anchor="end" font-weight="normal" font-style="normal" fill="#555">3000</text>
<line x1="309.25" y1="315.0" x2="311.25" y2="315.0" stroke="#888" stroke-width="1"/>
<text x="305" y="317.2" font-size="6.3" text-anchor="end" font-weight="normal" font-style="normal" fill="#555">3500</text>
<line x1="309.25" y1="303.75" x2="311.25" y2="303.75" stroke="#888" stroke-width="1"/>
<text x="305" y="305.95" font-size="6.3" text-anchor="end" font-weight="normal" font-style="normal" fill="#555">4000</text>
<line x1="309.25" y1="292.5" x2="311.25" y2="292.5" stroke="#888" stroke-width="1"/>
<text x="305" y="294.7" font-size="6.3" text-anchor="end" font-weight="normal" font-style="normal" fill="#555">4500</text>
<line x1="309.25" y1="281.25" x2="311.25" y2="281.25" stroke="#888" stroke-width="1"/>
<text x="305" y="283.45" font-size="6.3" text-anchor="end" font-weight="normal" font-style="normal" fill="#555">5000</text>
<text x="285" y="336.6" font-size="8.6" text-anchor="middle" font-weight="bold" font-style="normal" fill="#000" transform="rotate(-90 285 336.6)" textLength="115.6" lengthAdjust="spacingAndGlyphs">Bone Marrow CLP Numbers</text>
<line x1="311.25" y1="393.75" x2="506.25" y2="393.75" stroke="#888" stroke-width="1"/>
<line x1="311.25" y1="393.75" x2="311.25" y2="395.75" stroke="#888" stroke-width="1"/>
<line x1="376.25" y1="393.75" x2="376.25" y2="395.75" stroke="#888" stroke-width="1"/>
<line x1="441.25" y1="393.75" x2="441.25" y2="395.75" stroke="#888" stroke-width="1"/>
<line x1="506.25" y1="393.75" x2="506.25" y2="395.75" stroke="#888" stroke-width="1"/>
<line x1="343.70000000000005" y1="299.4" x2="343.70000000000005" y2="296" stroke="#444" stroke-width="1"/>
<line x1="341.50000000000006" y1="296" x2="345.90000000000003" y2="296" stroke="#444" stroke-width="1"/>
<rect x="331.8" y="299.9" width="23.80000000000001" height="93.35000000000002" fill="#000" stroke="#000" stroke-width="1"/>
<line x1="408.1" y1="373.8" x2="408.1" y2="366.8" stroke="#444" stroke-width="1"/>
<line x1="405.90000000000003" y1="366.8" x2="410.3" y2="366.8" stroke="#444" stroke-width="1"/>
<rect x="396.5" y="374.3" width="23.19999999999999" height="18.94999999999999" fill="#000" stroke="#000" stroke-width="1"/>
<line x1="472.6" y1="326.4" x2="472.6" y2="313.8" stroke="#444" stroke-width="1"/>
<line x1="470.40000000000003" y1="313.8" x2="474.8" y2="313.8" stroke="#444" stroke-width="1"/>
<rect x="460.9" y="326.9" width="23.400000000000034" height="66.35000000000002" fill="#000" stroke="#000" stroke-width="1"/>
<text x="386.1" y="360.7" font-size="10.3" text-anchor="start" font-weight="normal" font-style="normal" fill="#000" textLength="40.5" lengthAdjust="spacingAndGlyphs"><tspan font-style="italic">P</tspan> &lt; .001</text>
<text x="337.1" y="407.6" font-size="7.3" text-anchor="start" font-weight="normal" font-style="normal" fill="#333" textLength="10.4" lengthAdjust="spacingAndGlyphs">WT</text>
<text x="378.6" y="407.7" font-size="7.3" text-anchor="start" font-weight="normal" font-style="normal" fill="#333" textLength="59.2" lengthAdjust="spacingAndGlyphs">FX -/- , no fucose</text>
<text x="441.6" y="407.7" font-size="7.3" text-anchor="start" font-weight="normal" font-style="normal" fill="#333" textLength="62.5" lengthAdjust="spacingAndGlyphs">FX -/-, with fucose</text>
<text x="338.6" y="423.2" font-size="9" text-anchor="start" font-weight="normal" font-style="normal" fill="#222" textLength="22.6" lengthAdjust="spacingAndGlyphs">(n=8)</text>
<text x="395.8" y="423.2" font-size="9" text-anchor="start" font-weight="normal" font-style="normal" fill="#222" textLength="21.2" lengthAdjust="spacingAndGlyphs">(n=6)</text>
<text x="461.3" y="423.2" font-size="9" text-anchor="start" font-weight="normal" font-style="normal" fill="#222" textLength="21.4" lengthAdjust="spacingAndGlyphs">(n=6)</text>
</svg>
</body></html>
